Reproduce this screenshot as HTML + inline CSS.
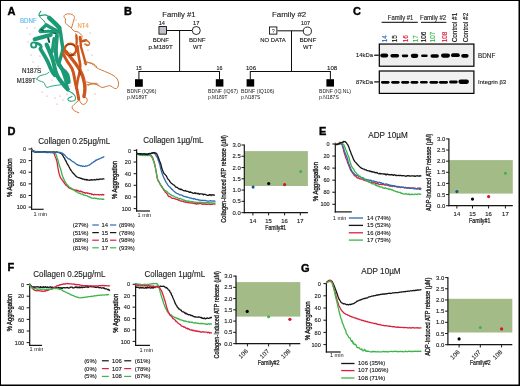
<!DOCTYPE html>
<html><head><meta charset="utf-8"><style>
html,body{margin:0;padding:0;background:#fff;}
body{width:520px;height:386px;overflow:hidden;}
svg{display:block;font-family:"Liberation Sans", sans-serif;will-change:transform;}
</style></head><body>
<svg width="520" height="386" viewBox="0 0 520 386">
<rect width="520" height="386" fill="#fff"/>
<defs><filter id="soft" x="0" y="0" width="520" height="386" filterUnits="userSpaceOnUse"><feGaussianBlur stdDeviation="0.3"/></filter></defs>
<g filter="url(#soft)">
<text x="7.50" y="15.00" font-size="11.0" fill="#000" stroke="#000" stroke-width="0.4" text-anchor="start" font-weight="bold" >A</text>
<text x="124.10" y="15.30" font-size="11.0" fill="#000" stroke="#000" stroke-width="0.4" text-anchor="start" font-weight="bold" >B</text>
<text x="353.10" y="15.40" font-size="11.0" fill="#000" stroke="#000" stroke-width="0.4" text-anchor="start" font-weight="bold" >C</text>
<text x="7.50" y="135.00" font-size="11.0" fill="#000" stroke="#000" stroke-width="0.4" text-anchor="start" font-weight="bold" >D</text>
<text x="318.90" y="134.70" font-size="11.0" fill="#000" stroke="#000" stroke-width="0.4" text-anchor="start" font-weight="bold" >E</text>
<text x="7.50" y="271.30" font-size="11.0" fill="#000" stroke="#000" stroke-width="0.4" text-anchor="start" font-weight="bold" >F</text>
<text x="301.00" y="271.50" font-size="11.0" fill="#000" stroke="#000" stroke-width="0.4" text-anchor="start" font-weight="bold" >G</text>
<g><path d="M40.8,11.3 Q38.7,14.5 39.0,15.2 Q39.4,15.9 41.2,15.4 Q43.0,14.9 44.7,14.9 Q46.4,14.9 47.6,15.9 L48.8,17.0" fill="none" stroke="#1a9a74" stroke-width="1.1" stroke-linecap="round" stroke-linejoin="round" />
<path d="M39.4,15.9 Q40.4,18.0 41.7,18.9 Q43.0,19.7 44.0,21.0 Q45.1,22.3 45.4,24.1 L45.6,25.8" fill="none" stroke="#1a9a74" stroke-width="1.0" stroke-linecap="round" stroke-linejoin="round" />
<path d="M36.7,79.2 Q37.9,76.3 40.0,75.8 Q42.0,75.2 44.4,74.6 Q46.7,74.0 47.9,73.1 L49.0,72.2" fill="none" stroke="#2aa683" stroke-width="1.0" stroke-linecap="round" stroke-linejoin="round" />
<path d="M36.7,79.2 Q38.5,81.0 41.4,81.5 Q44.3,82.1 44.6,83.6 Q44.9,85.1 45.8,86.5 Q46.7,88.0 48.5,87.1 Q50.2,86.2 54.2,85.7 Q58.3,85.1 60.0,84.8 L61.8,84.5" fill="none" stroke="#2aa683" stroke-width="1.0" stroke-linecap="round" stroke-linejoin="round" />
<path d="M66.5,90.3 Q70.0,91.5 71.8,92.7 Q73.5,93.8 74.7,95.5 Q75.8,97.3 75.5,98.8 Q75.2,100.2 73.8,100.8 Q72.3,101.4 70.2,101.1 Q68.2,100.8 67.9,99.7 Q67.6,98.5 68.8,97.9 Q70.0,97.3 71.0,96.9 L72.0,96.5" fill="none" stroke="#2aa683" stroke-width="1.1" stroke-linecap="round" stroke-linejoin="round" />
<circle cx="33.7" cy="45.0" r="2.6" fill="none" stroke="#1a9a74" stroke-width="1.9"/>
<path d="M49.2,17.8 Q54.5,22.6 57.0,25.2 L59.4,27.9" fill="none" stroke="#1a9a74" stroke-width="4.4" stroke-linecap="round" stroke-linejoin="round" />
<path d="M59.6,28.5 Q60.6,32.0 60.9,34.7 Q61.1,37.4 61.7,41.0 Q62.2,44.7 62.7,46.8 Q63.2,48.9 62.2,52.5 Q61.1,56.1 59.8,60.3 L58.5,64.5" fill="none" stroke="#1a9a74" stroke-width="3.5" stroke-linecap="round" stroke-linejoin="round" />
<path d="M46.4,24.9 Q52.5,28.5 55.5,30.1 L58.5,31.8" fill="none" stroke="#1a9a74" stroke-width="3.5" stroke-linecap="round" stroke-linejoin="round" />
<path d="M45.6,25.4 Q42.5,28.0 41.2,29.5 L40.0,31.0" fill="none" stroke="#1a9a74" stroke-width="3.3" stroke-linecap="round" stroke-linejoin="round" />
<path d="M40.4,31.7 Q46.0,31.2 48.9,31.2 Q51.8,31.2 54.9,31.8 L58.0,32.3" fill="none" stroke="#1a9a74" stroke-width="3.1" stroke-linecap="round" stroke-linejoin="round" />
<path d="M34.7,39.2 Q42.0,37.2 46.4,36.0 L50.7,34.9" fill="none" stroke="#1a9a74" stroke-width="4.1" stroke-linecap="round" stroke-linejoin="round" />
<path d="M36.2,43.2 Q39.5,44.0 40.5,45.2 Q41.5,46.5 41.0,47.7 L40.4,48.9" fill="none" stroke="#1a9a74" stroke-width="2.9" stroke-linecap="round" stroke-linejoin="round" />
<path d="M40.4,48.9 Q45.6,57.2 47.1,60.4 Q48.6,63.5 50.2,67.6 Q51.9,71.7 53.3,73.5 L54.8,75.2" fill="none" stroke="#1a9a74" stroke-width="3.7" stroke-linecap="round" stroke-linejoin="round" />
<path d="M46.6,44.7 Q50.7,54.0 52.2,58.0 Q53.6,62.0 54.0,64.5 Q54.3,67.0 55.5,71.1 Q56.6,75.2 58.6,78.1 Q60.6,81.0 63.0,83.9 Q65.3,86.8 66.5,88.0 L67.8,89.3" fill="none" stroke="#1a9a74" stroke-width="4.1" stroke-linecap="round" stroke-linejoin="round" />
<path d="M53.9,38.5 Q52.8,45.7 52.5,48.9 L52.3,52.0" fill="none" stroke="#1a9a74" stroke-width="2.9" stroke-linecap="round" stroke-linejoin="round" />
<path d="M57.0,35.4 Q55.9,45.7 55.9,50.9 Q55.9,56.1 56.7,59.0 Q57.5,62.0 58.5,63.9 Q59.5,65.8 61.5,68.2 Q63.6,70.5 65.6,72.2 Q67.6,74.0 68.2,78.0 L68.8,82.1" fill="none" stroke="#1a9a74" stroke-width="3.9" stroke-linecap="round" stroke-linejoin="round" />
<path d="M60.5,66.0 Q64.5,75.0 65.5,79.5 Q66.5,84.0 67.0,86.5 L67.5,89.0" fill="none" stroke="#1a9a74" stroke-width="3.3" stroke-linecap="round" stroke-linejoin="round" />
<path d="M48.2,38.3 L49.2,42.1" fill="none" stroke="#0b5a43" stroke-width="2.0" stroke-linecap="round" stroke-linejoin="round" />
<path d="M41.2,29.6 L43.2,30.4" fill="none" stroke="#0b5a43" stroke-width="1.6" stroke-linecap="round" stroke-linejoin="round" />
<path d="M52.6,33.0 L56.0,33.6" fill="none" stroke="#0b5a43" stroke-width="1.2" stroke-linecap="round" stroke-linejoin="round" />
<path d="M65.6,19.2 C62.2,16.6 64.2,13.6 69.3,13.9 C73.2,14.1 75.3,16.6 74.3,18.4 L72.8,23.5 L71.4,28.4 L74.3,31.2 L78.6,32.1 L82.1,35.7 L81.4,40" fill="none" stroke="#d0783a" stroke-width="1.0" stroke-linecap="round" stroke-linejoin="round" />
<path d="M65.6,19.2 Q64.6,22.0 65.8,23.4 Q67.0,24.9 69.2,26.4 L71.3,27.8" fill="none" stroke="#d0783a" stroke-width="1.0" stroke-linecap="round" stroke-linejoin="round" />
<path d="M75.7,33.6 L77.9,39.3" fill="none" stroke="#d0783a" stroke-width="0.9" stroke-linecap="round" stroke-linejoin="round" />
<path d="M85.7,40.0 Q90.7,42.9 89.3,44.6 Q87.9,46.4 86.2,45.2 L84.5,44.0" fill="none" stroke="#d0783a" stroke-width="1.1" stroke-linecap="round" stroke-linejoin="round" />
<path d="M86.3,61.8 Q91.8,62.7 93.6,65.0 Q95.4,67.2 98.2,68.6 Q100.9,70.0 104.5,71.3 Q108.1,72.7 111.8,74.5 Q115.4,76.3 117.2,79.0 Q119.0,81.7 118.5,84.9 Q118.1,88.1 116.3,88.5 Q114.5,89.0 112.7,87.2 Q110.8,85.4 108.5,85.8 Q106.3,86.3 104.0,87.2 Q101.8,88.1 99.5,86.3 Q97.2,84.5 94.5,84.0 Q91.8,83.6 89.9,84.5 L88.1,85.4" fill="none" stroke="#d0783a" stroke-width="1.0" stroke-linecap="round" stroke-linejoin="round" />
<path d="M78.8,97.3 Q79.8,103.1 81.8,104.0 Q83.7,105.0 85.3,103.8 Q87.0,102.6 87.2,100.4 Q87.5,98.3 86.0,97.8 L84.6,97.3" fill="none" stroke="#d0783a" stroke-width="1.0" stroke-linecap="round" stroke-linejoin="round" />
<path d="M77.9,101.2 Q73.1,105.0 72.3,106.5 Q71.6,107.9 72.8,109.3 Q74.0,110.8 76.4,111.8 L78.8,112.7" fill="none" stroke="#d0783a" stroke-width="1.0" stroke-linecap="round" stroke-linejoin="round" />
<path d="M86.5,81.9 Q91.3,83.8 94.2,83.3 Q97.1,82.9 98.0,84.3 L99.0,85.8" fill="none" stroke="#d0783a" stroke-width="0.9" stroke-linecap="round" stroke-linejoin="round" />
<path d="M70.0,52.7 L75.4,55.4" fill="none" stroke="#d0783a" stroke-width="1.0" stroke-linecap="round" stroke-linejoin="round" />
<circle cx="70.4" cy="49.6" r="5.8" fill="none" stroke="#cc561a" stroke-width="2.4"/>
<path d="M66.0,45.6 Q70,42.8 74.8,45.6" fill="none" stroke="#8a3510" stroke-width="1.0" stroke-linecap="round" stroke-linejoin="round" />
<path d="M76.3,35.5 Q76.8,40.0 76.7,42.0 L76.5,44.0" fill="none" stroke="#cc561a" stroke-width="2.3" stroke-linecap="round" stroke-linejoin="round" />
<path d="M79.9,37.0 L80.9,45.4" fill="none" stroke="#cc561a" stroke-width="2.3" stroke-linecap="round" stroke-linejoin="round" />
<path d="M81.9,41.2 L86.1,40.2" fill="none" stroke="#cc561a" stroke-width="2.5" stroke-linecap="round" stroke-linejoin="round" />
<path d="M86.1,39.7 Q90.8,42.8 89.5,44.1 Q88.2,45.4 86.8,44.7 L85.5,44.0" fill="none" stroke="#d0783a" stroke-width="1.2" stroke-linecap="round" stroke-linejoin="round" />
<path d="M63.2,53.9 Q67.1,61.7 69.7,64.9 Q72.2,68.1 73.2,72.0 Q74.2,75.9 74.8,79.8 Q75.5,83.7 76.5,87.6 Q77.4,91.5 78.1,95.3 L78.7,99.2" fill="none" stroke="#cc561a" stroke-width="3.0" stroke-linecap="round" stroke-linejoin="round" />
<path d="M65.8,51.3 Q71.0,57.8 73.5,61.0 Q76.1,64.2 78.7,68.1 Q81.3,72.0 82.6,75.9 Q83.9,79.8 84.6,84.3 Q85.2,88.9 84.6,92.8 L83.9,96.6" fill="none" stroke="#cc561a" stroke-width="3.4" stroke-linecap="round" stroke-linejoin="round" />
<path d="M77.4,46.0 Q78.7,57.8 79.7,61.6 Q80.7,65.5 80.1,69.4 Q79.4,73.3 78.4,77.2 Q77.4,81.1 77.0,84.5 L76.5,88.0" fill="none" stroke="#cc561a" stroke-width="2.6" stroke-linecap="round" stroke-linejoin="round" />
<path d="M80.7,46.0 Q83.9,56.5 84.8,60.4 L85.8,64.2" fill="none" stroke="#cc561a" stroke-width="2.4" stroke-linecap="round" stroke-linejoin="round" />
<path d="M83.9,63.0 Q89.1,62.3 91.7,63.2 Q94.3,64.2 95.6,65.5 L96.9,66.8" fill="none" stroke="#d0783a" stroke-width="1.0" stroke-linecap="round" stroke-linejoin="round" />
<path d="M86.5,85.0 Q91.7,83.0 94.3,83.7 L96.9,84.3" fill="none" stroke="#d0783a" stroke-width="1.0" stroke-linecap="round" stroke-linejoin="round" />
<path d="M69.5,55.4 L73.5,55.0" fill="none" stroke="#8a3510" stroke-width="1.3" stroke-linecap="round" stroke-linejoin="round" />
<path d="M79.5,70.0 L80.5,75.0" fill="none" stroke="#8a3510" stroke-width="0.8" stroke-linecap="round" stroke-linejoin="round" />
<circle cx="27" cy="28" r="0.5" fill="#c07070"/>
<circle cx="30" cy="34" r="0.5" fill="#c07070"/>
<circle cx="35" cy="28" r="0.5" fill="#c07070"/>
<circle cx="28" cy="42" r="0.5" fill="#c07070"/>
<circle cx="31" cy="55" r="0.5" fill="#c07070"/>
<circle cx="33" cy="62" r="0.5" fill="#c07070"/>
<circle cx="38" cy="66" r="0.5" fill="#c07070"/>
<circle cx="30" cy="70" r="0.5" fill="#c07070"/>
<circle cx="42" cy="92" r="0.5" fill="#c07070"/>
<circle cx="47" cy="96" r="0.5" fill="#c07070"/>
<circle cx="55" cy="98" r="0.5" fill="#c07070"/>
<circle cx="60" cy="96" r="0.5" fill="#c07070"/>
<circle cx="76" cy="20" r="0.5" fill="#c07070"/>
<circle cx="62" cy="36" r="0.5" fill="#c07070"/>
<circle cx="58" cy="42" r="0.5" fill="#c07070"/>
<circle cx="88" cy="50" r="0.5" fill="#c07070"/>
<circle cx="92" cy="55" r="0.5" fill="#c07070"/>
<circle cx="90" cy="33" r="0.5" fill="#c07070"/>
<circle cx="84" cy="26" r="0.5" fill="#c07070"/>
<circle cx="66" cy="70" r="0.5" fill="#c07070"/>
<circle cx="73" cy="72" r="0.5" fill="#c07070"/>
<circle cx="88" cy="70" r="0.5" fill="#c07070"/>
<circle cx="95" cy="94" r="0.5" fill="#c07070"/>
<circle cx="67" cy="94" r="0.5" fill="#c07070"/>
<circle cx="63" cy="100" r="0.5" fill="#c07070"/>
<circle cx="57" cy="104" r="0.5" fill="#c07070"/>
<circle cx="45" cy="28" r="0.5" fill="#c07070"/>
<circle cx="40" cy="56" r="0.5" fill="#c07070"/>
<circle cx="70" cy="86" r="0.5" fill="#c07070"/>
<circle cx="52" cy="80" r="0.5" fill="#c07070"/></g>
<text x="20.00" y="22.80" font-size="6.3" fill="#5bb5e8" stroke="#5bb5e8" stroke-width="0.12" text-anchor="start" font-weight="normal" textLength="16.8" lengthAdjust="spacingAndGlyphs">BDNF</text>
<text x="77.60" y="28.00" font-size="6.3" fill="#f0a050" stroke="#f0a050" stroke-width="0.12" text-anchor="start" font-weight="normal" textLength="11.2" lengthAdjust="spacingAndGlyphs">NT4</text>
<text x="22.10" y="73.10" font-size="6.3" fill="#1a1a1a" stroke="#1a1a1a" stroke-width="0.12" text-anchor="start" font-weight="normal" textLength="19.2" lengthAdjust="spacingAndGlyphs">N187S</text>
<text x="16.80" y="82.80" font-size="6.3" fill="#1a1a1a" stroke="#1a1a1a" stroke-width="0.12" text-anchor="start" font-weight="normal" textLength="18.8" lengthAdjust="spacingAndGlyphs">M189T</text>
<text x="162.25" y="17.40" font-size="8.0" fill="#1a1a1a" stroke="#1a1a1a" stroke-width="0.12" text-anchor="start" font-weight="normal" textLength="33.4" lengthAdjust="spacingAndGlyphs">Family #1</text>
<text x="271.90" y="17.40" font-size="8.0" fill="#1a1a1a" stroke="#1a1a1a" stroke-width="0.12" text-anchor="start" font-weight="normal" textLength="34.4" lengthAdjust="spacingAndGlyphs">Family #2</text>
<line x1="166.60" y1="30.50" x2="192.00" y2="30.50" stroke="#111" stroke-width="1.0" />
<line x1="179.60" y1="30.50" x2="179.60" y2="71.50" stroke="#111" stroke-width="1.0" />
<line x1="138.90" y1="71.50" x2="219.50" y2="71.50" stroke="#111" stroke-width="1.0" />
<line x1="138.90" y1="71.00" x2="138.90" y2="79.40" stroke="#111" stroke-width="1.0" />
<line x1="219.50" y1="71.00" x2="219.50" y2="79.40" stroke="#111" stroke-width="1.0" />
<rect x="158.95" y="26.55" width="7.50" height="7.60" fill="#c0c0c8" stroke="#111" stroke-width="0.9" />
<circle cx="196.25" cy="30.50" r="4.00" fill="#fff" stroke="#111" stroke-width="0.9"/>
<rect x="135.00" y="79.20" width="7.80" height="7.60" fill="#000" stroke="none" stroke-width="0" />
<rect x="215.80" y="79.20" width="7.60" height="7.40" fill="#000" stroke="none" stroke-width="0" />
<text x="158.75" y="24.90" font-size="5.7" fill="#1a1a1a" stroke="#1a1a1a" stroke-width="0.12" text-anchor="start" font-weight="normal" textLength="6.2" lengthAdjust="spacingAndGlyphs">14</text>
<text x="193.10" y="24.90" font-size="5.7" fill="#1a1a1a" stroke="#1a1a1a" stroke-width="0.12" text-anchor="start" font-weight="normal" textLength="6.3" lengthAdjust="spacingAndGlyphs">17</text>
<text x="152.75" y="41.50" font-size="6.0" fill="#1a1a1a" stroke="#1a1a1a" stroke-width="0.12" text-anchor="start" font-weight="normal" textLength="16.2" lengthAdjust="spacingAndGlyphs">BDNF</text>
<text x="148.50" y="49.25" font-size="6.1" fill="#1a1a1a" stroke="#1a1a1a" stroke-width="0.12" text-anchor="start" font-weight="normal" textLength="24.2" lengthAdjust="spacingAndGlyphs">p.M189T</text>
<text x="189.00" y="41.50" font-size="6.0" fill="#1a1a1a" stroke="#1a1a1a" stroke-width="0.12" text-anchor="start" font-weight="normal" textLength="16.5" lengthAdjust="spacingAndGlyphs">BDNF</text>
<text x="193.10" y="49.25" font-size="6.1" fill="#1a1a1a" stroke="#1a1a1a" stroke-width="0.12" text-anchor="start" font-weight="normal" textLength="8.8" lengthAdjust="spacingAndGlyphs">WT</text>
<text x="135.90" y="69.80" font-size="5.3" fill="#1a1a1a" stroke="#1a1a1a" stroke-width="0.12" text-anchor="start" font-weight="normal" textLength="5.7" lengthAdjust="spacingAndGlyphs">15</text>
<text x="216.40" y="69.80" font-size="5.3" fill="#1a1a1a" stroke="#1a1a1a" stroke-width="0.12" text-anchor="start" font-weight="normal" textLength="6.0" lengthAdjust="spacingAndGlyphs">16</text>
<text x="127.10" y="92.70" font-size="5.0" fill="#1a1a1a"  text-anchor="start" font-weight="normal" textLength="29.2" lengthAdjust="spacingAndGlyphs">BDNF (IQ96)</text>
<text x="127.10" y="98.60" font-size="5.1" fill="#1a1a1a"  text-anchor="start" font-weight="normal" textLength="20.2" lengthAdjust="spacingAndGlyphs">p.M189T</text>
<text x="208.00" y="92.70" font-size="5.0" fill="#1a1a1a"  text-anchor="start" font-weight="normal" textLength="30.0" lengthAdjust="spacingAndGlyphs">BDNF (IQ67)</text>
<text x="208.00" y="98.60" font-size="5.1" fill="#1a1a1a"  text-anchor="start" font-weight="normal" textLength="19.4" lengthAdjust="spacingAndGlyphs">p.M189T</text>
<line x1="277.40" y1="30.80" x2="303.00" y2="30.80" stroke="#111" stroke-width="1.0" />
<line x1="291.50" y1="30.80" x2="291.50" y2="71.50" stroke="#111" stroke-width="1.0" />
<line x1="250.20" y1="71.50" x2="330.40" y2="71.50" stroke="#111" stroke-width="1.0" />
<line x1="250.30" y1="71.00" x2="250.30" y2="79.40" stroke="#111" stroke-width="1.0" />
<line x1="330.40" y1="71.00" x2="330.40" y2="79.40" stroke="#111" stroke-width="1.0" />
<rect x="269.45" y="26.95" width="7.40" height="7.20" fill="#fff" stroke="#111" stroke-width="0.9" />
<text x="273.20" y="32.50" font-size="5.4" fill="#1a1a1a"  text-anchor="middle" font-weight="normal" >?</text>
<circle cx="307.40" cy="31.10" r="4.05" fill="#fff" stroke="#111" stroke-width="0.9"/>
<rect x="246.60" y="79.20" width="7.60" height="7.40" fill="#000" stroke="none" stroke-width="0" />
<rect x="326.40" y="79.20" width="7.60" height="7.40" fill="#000" stroke="none" stroke-width="0" />
<text x="301.00" y="24.90" font-size="5.5" fill="#1a1a1a" stroke="#1a1a1a" stroke-width="0.12" text-anchor="start" font-weight="normal" textLength="9.0" lengthAdjust="spacingAndGlyphs">107</text>
<text x="260.25" y="42.00" font-size="5.9" fill="#1a1a1a" stroke="#1a1a1a" stroke-width="0.12" text-anchor="start" font-weight="normal" textLength="25.4" lengthAdjust="spacingAndGlyphs">NO DATA</text>
<text x="299.40" y="42.00" font-size="6.1" fill="#1a1a1a" stroke="#1a1a1a" stroke-width="0.12" text-anchor="start" font-weight="normal" textLength="16.9" lengthAdjust="spacingAndGlyphs">BDNF</text>
<text x="303.10" y="49.25" font-size="6.1" fill="#1a1a1a" stroke="#1a1a1a" stroke-width="0.12" text-anchor="start" font-weight="normal" textLength="9.2" lengthAdjust="spacingAndGlyphs">WT</text>
<text x="246.00" y="69.80" font-size="5.5" fill="#1a1a1a" stroke="#1a1a1a" stroke-width="0.12" text-anchor="start" font-weight="normal" textLength="10.0" lengthAdjust="spacingAndGlyphs">106</text>
<text x="327.00" y="69.80" font-size="5.5" fill="#1a1a1a" stroke="#1a1a1a" stroke-width="0.12" text-anchor="start" font-weight="normal" textLength="10.2" lengthAdjust="spacingAndGlyphs">108</text>
<text x="241.10" y="92.70" font-size="5.0" fill="#1a1a1a"  text-anchor="start" font-weight="normal" textLength="33.2" lengthAdjust="spacingAndGlyphs">BDNF (IQ106)</text>
<text x="241.10" y="98.60" font-size="5.1" fill="#1a1a1a"  text-anchor="start" font-weight="normal" textLength="19.2" lengthAdjust="spacingAndGlyphs">p.N187S</text>
<text x="319.00" y="92.70" font-size="5.0" fill="#1a1a1a"  text-anchor="start" font-weight="normal" textLength="32.0" lengthAdjust="spacingAndGlyphs">BDNF (IQ.NL)</text>
<text x="319.00" y="98.60" font-size="5.1" fill="#1a1a1a"  text-anchor="start" font-weight="normal" textLength="19.8" lengthAdjust="spacingAndGlyphs">p.N187S</text>
<text x="387.80" y="19.80" font-size="6.5" fill="#222" stroke="#222" stroke-width="0.12" text-anchor="start" font-weight="normal" textLength="25.6" lengthAdjust="spacingAndGlyphs">Family #1</text>
<text x="420.00" y="20.00" font-size="6.5" fill="#222" stroke="#222" stroke-width="0.12" text-anchor="start" font-weight="normal" textLength="26.2" lengthAdjust="spacingAndGlyphs">Family #2</text>
<line x1="381.60" y1="22.30" x2="417.80" y2="22.30" stroke="#333" stroke-width="1.2" />
<line x1="421.00" y1="22.40" x2="446.30" y2="22.40" stroke="#333" stroke-width="1.2" />
<text transform="translate(386.80,42.3) rotate(-90)" font-size="6.4" fill="#2f6db0" stroke="#2f6db0" stroke-width="0.15" text-anchor="start">14</text>
<text transform="translate(397.10,42.3) rotate(-90)" font-size="6.4" fill="#151515" stroke="#151515" stroke-width="0.15" text-anchor="start">15</text>
<text transform="translate(407.50,42.3) rotate(-90)" font-size="6.4" fill="#d8213f" stroke="#d8213f" stroke-width="0.15" text-anchor="start">16</text>
<text transform="translate(417.60,42.3) rotate(-90)" font-size="6.4" fill="#3db54a" stroke="#3db54a" stroke-width="0.15" text-anchor="start">17</text>
<text transform="translate(425.60,42.3) rotate(-90)" font-size="6.4" fill="#151515" stroke="#151515" stroke-width="0.15" text-anchor="start">106</text>
<text transform="translate(435.40,42.3) rotate(-90)" font-size="6.4" fill="#3db54a" stroke="#3db54a" stroke-width="0.15" text-anchor="start">107</text>
<text transform="translate(446.50,42.3) rotate(-90)" font-size="6.4" fill="#d8213f" stroke="#d8213f" stroke-width="0.15" text-anchor="start">108</text>
<text transform="translate(457.30,42.3) rotate(-90)" font-size="6.4" fill="#151515" stroke="#151515" stroke-width="0.15" text-anchor="start">Control #1</text>
<text transform="translate(468.10,42.3) rotate(-90)" font-size="6.4" fill="#151515" stroke="#151515" stroke-width="0.15" text-anchor="start">Control #2</text>
<rect x="379.30" y="44.05" width="94.60" height="22.20" fill="#efefef" stroke="#000" stroke-width="1.2" />
<rect x="379.30" y="71.00" width="94.60" height="22.40" fill="#f1f1f1" stroke="#000" stroke-width="1.2" />
<text x="372.90" y="56.60" font-size="6.2" fill="#1a1a1a" stroke="#1a1a1a" stroke-width="0.12" text-anchor="end" font-weight="normal" textLength="16.9" lengthAdjust="spacingAndGlyphs">14kDa</text>
<text x="372.90" y="83.80" font-size="6.2" fill="#1a1a1a" stroke="#1a1a1a" stroke-width="0.12" text-anchor="end" font-weight="normal" textLength="16.9" lengthAdjust="spacingAndGlyphs">87kDa</text>
<line x1="374.20" y1="55.20" x2="378.80" y2="55.20" stroke="#000" stroke-width="1.2" />
<line x1="374.20" y1="81.90" x2="378.80" y2="81.90" stroke="#000" stroke-width="1.2" />
<text x="478.10" y="57.90" font-size="6.3" fill="#1a1a1a" stroke="#1a1a1a" stroke-width="0.12" text-anchor="start" font-weight="normal" textLength="17.2" lengthAdjust="spacingAndGlyphs">BDNF</text>
<text x="478.10" y="84.20" font-size="5.9" fill="#1a1a1a" stroke="#1a1a1a" stroke-width="0.12" text-anchor="start" font-weight="normal" textLength="28.0" lengthAdjust="spacingAndGlyphs">Integrin β3</text>
<defs><filter id="bl" x="-20%" y="-60%" width="140%" height="220%"><feGaussianBlur stdDeviation="0.35"/></filter></defs>
<rect x="380.30" y="53.50" width="7.90" height="4.10" rx="2.05" ry="2.05" fill="#050505" filter="url(#bl)"/>
<rect x="390.40" y="54.00" width="8.70" height="3.40" rx="1.70" ry="1.70" fill="#050505" filter="url(#bl)"/>
<rect x="401.80" y="54.50" width="6.40" height="2.70" rx="1.35" ry="1.35" fill="#050505" filter="url(#bl)"/>
<rect x="410.80" y="53.70" width="7.50" height="4.20" rx="2.10" ry="2.10" fill="#050505" filter="url(#bl)"/>
<rect x="421.10" y="54.60" width="6.60" height="2.50" rx="1.25" ry="1.25" fill="#050505" filter="url(#bl)"/>
<rect x="430.50" y="54.30" width="8.40" height="3.40" rx="1.70" ry="1.70" fill="#050505" filter="url(#bl)"/>
<rect x="441.00" y="53.50" width="9.00" height="4.20" rx="2.10" ry="2.10" fill="#050505" filter="url(#bl)"/>
<rect x="451.00" y="53.20" width="8.80" height="3.90" rx="1.95" ry="1.95" fill="#050505" filter="url(#bl)"/>
<rect x="461.20" y="53.90" width="7.40" height="3.80" rx="1.90" ry="1.90" fill="#050505" filter="url(#bl)"/>
<rect x="381.00" y="81.00" width="8.50" height="2.70" rx="1.35" ry="1.35" fill="#050505" filter="url(#bl)"/>
<rect x="391.20" y="81.00" width="8.40" height="2.70" rx="1.35" ry="1.35" fill="#050505" filter="url(#bl)"/>
<rect x="401.20" y="81.00" width="8.00" height="2.70" rx="1.35" ry="1.35" fill="#050505" filter="url(#bl)"/>
<rect x="410.60" y="81.00" width="7.70" height="2.70" rx="1.35" ry="1.35" fill="#050505" filter="url(#bl)"/>
<rect x="420.00" y="81.10" width="7.70" height="2.50" rx="1.25" ry="1.25" fill="#050505" filter="url(#bl)"/>
<rect x="429.50" y="80.90" width="8.70" height="2.80" rx="1.40" ry="1.40" fill="#050505" filter="url(#bl)"/>
<rect x="438.90" y="80.90" width="9.10" height="2.80" rx="1.40" ry="1.40" fill="#050505" filter="url(#bl)"/>
<rect x="449.10" y="80.60" width="8.60" height="2.90" rx="1.45" ry="1.45" fill="#050505" filter="url(#bl)"/>
<rect x="458.40" y="79.60" width="10.50" height="4.30" rx="2.15" ry="2.15" fill="#050505" filter="url(#bl)"/>
<text x="38.20" y="143.50" font-size="8.5" fill="#1a1a1a" stroke="#1a1a1a" stroke-width="0.12" text-anchor="start" font-weight="normal" textLength="72.1" lengthAdjust="spacingAndGlyphs">Collagen 0.25µg/mL</text>
<text x="143.30" y="142.90" font-size="8.5" fill="#1a1a1a" stroke="#1a1a1a" stroke-width="0.12" text-anchor="start" font-weight="normal" textLength="60.1" lengthAdjust="spacingAndGlyphs">Collagen 1µg/mL</text>
<line x1="31.60" y1="147.80" x2="31.60" y2="209.90" stroke="#151515" stroke-width="1.2" />
<line x1="31.00" y1="209.30" x2="43.60" y2="209.30" stroke="#151515" stroke-width="1.2" />
<line x1="28.60" y1="149.00" x2="31.60" y2="149.00" stroke="#151515" stroke-width="1.0" />
<text x="26.00" y="151.10" font-size="5.9" fill="#1a1a1a" stroke="#1a1a1a" stroke-width="0.12" text-anchor="end" font-weight="normal" textLength="3.1" lengthAdjust="spacingAndGlyphs">0</text>
<line x1="28.60" y1="160.62" x2="31.60" y2="160.62" stroke="#151515" stroke-width="1.0" />
<text x="26.00" y="162.72" font-size="5.9" fill="#1a1a1a" stroke="#1a1a1a" stroke-width="0.12" text-anchor="end" font-weight="normal" textLength="6.2" lengthAdjust="spacingAndGlyphs">20</text>
<line x1="28.60" y1="172.24" x2="31.60" y2="172.24" stroke="#151515" stroke-width="1.0" />
<text x="26.00" y="174.34" font-size="5.9" fill="#1a1a1a" stroke="#1a1a1a" stroke-width="0.12" text-anchor="end" font-weight="normal" textLength="6.2" lengthAdjust="spacingAndGlyphs">40</text>
<line x1="28.60" y1="183.86" x2="31.60" y2="183.86" stroke="#151515" stroke-width="1.0" />
<text x="26.00" y="185.96" font-size="5.9" fill="#1a1a1a" stroke="#1a1a1a" stroke-width="0.12" text-anchor="end" font-weight="normal" textLength="6.2" lengthAdjust="spacingAndGlyphs">60</text>
<line x1="28.60" y1="195.48" x2="31.60" y2="195.48" stroke="#151515" stroke-width="1.0" />
<text x="26.00" y="197.58" font-size="5.9" fill="#1a1a1a" stroke="#1a1a1a" stroke-width="0.12" text-anchor="end" font-weight="normal" textLength="6.2" lengthAdjust="spacingAndGlyphs">80</text>
<line x1="28.60" y1="207.10" x2="31.60" y2="207.10" stroke="#151515" stroke-width="1.0" />
<text x="26.00" y="209.20" font-size="5.9" fill="#1a1a1a" stroke="#1a1a1a" stroke-width="0.12" text-anchor="end" font-weight="normal" textLength="9.3" lengthAdjust="spacingAndGlyphs">100</text>
<text x="33.50" y="215.70" font-size="5.6" fill="#1a1a1a"  text-anchor="start" font-weight="normal" >1 min</text>
<text transform="translate(11.95,177.75) rotate(-90)" x="0" y="0" font-size="7.2" fill="#1a1a1a" stroke="#1a1a1a" stroke-width="0.35" text-anchor="middle" textLength="38.5" lengthAdjust="spacingAndGlyphs" >% Aggregation</text>
<line x1="136.60" y1="149.20" x2="136.60" y2="211.60" stroke="#151515" stroke-width="1.2" />
<line x1="136.00" y1="211.00" x2="150.00" y2="211.00" stroke="#151515" stroke-width="1.2" />
<line x1="133.60" y1="150.40" x2="136.60" y2="150.40" stroke="#151515" stroke-width="1.0" />
<text x="131.00" y="152.50" font-size="5.9" fill="#1a1a1a" stroke="#1a1a1a" stroke-width="0.12" text-anchor="end" font-weight="normal" textLength="3.1" lengthAdjust="spacingAndGlyphs">0</text>
<line x1="133.60" y1="162.04" x2="136.60" y2="162.04" stroke="#151515" stroke-width="1.0" />
<text x="131.00" y="164.14" font-size="5.9" fill="#1a1a1a" stroke="#1a1a1a" stroke-width="0.12" text-anchor="end" font-weight="normal" textLength="6.2" lengthAdjust="spacingAndGlyphs">20</text>
<line x1="133.60" y1="173.68" x2="136.60" y2="173.68" stroke="#151515" stroke-width="1.0" />
<text x="131.00" y="175.78" font-size="5.9" fill="#1a1a1a" stroke="#1a1a1a" stroke-width="0.12" text-anchor="end" font-weight="normal" textLength="6.2" lengthAdjust="spacingAndGlyphs">40</text>
<line x1="133.60" y1="185.32" x2="136.60" y2="185.32" stroke="#151515" stroke-width="1.0" />
<text x="131.00" y="187.42" font-size="5.9" fill="#1a1a1a" stroke="#1a1a1a" stroke-width="0.12" text-anchor="end" font-weight="normal" textLength="6.2" lengthAdjust="spacingAndGlyphs">60</text>
<line x1="133.60" y1="196.96" x2="136.60" y2="196.96" stroke="#151515" stroke-width="1.0" />
<text x="131.00" y="199.06" font-size="5.9" fill="#1a1a1a" stroke="#1a1a1a" stroke-width="0.12" text-anchor="end" font-weight="normal" textLength="6.2" lengthAdjust="spacingAndGlyphs">80</text>
<line x1="133.60" y1="208.60" x2="136.60" y2="208.60" stroke="#151515" stroke-width="1.0" />
<text x="131.00" y="210.70" font-size="5.9" fill="#1a1a1a" stroke="#1a1a1a" stroke-width="0.12" text-anchor="end" font-weight="normal" textLength="9.3" lengthAdjust="spacingAndGlyphs">100</text>
<text x="137.50" y="217.30" font-size="5.6" fill="#1a1a1a"  text-anchor="start" font-weight="normal" >1 min</text>
<text transform="translate(117.25,180.00) rotate(-90)" x="0" y="0" font-size="7.2" fill="#1a1a1a" stroke="#1a1a1a" stroke-width="0.35" text-anchor="middle" textLength="38.0" lengthAdjust="spacingAndGlyphs" >% Aggregation</text>
<polyline points="31.60,149.50 32.06,149.84 32.77,150.91 33.90,151.38 34.35,151.71 34.85,151.81 35.39,151.38 35.98,151.38 36.59,152.16 37.24,151.67 37.91,151.67 38.60,152.38 39.30,151.94 40.00,152.30 40.56,152.01 41.15,152.18 41.77,151.77 42.41,152.23 43.06,152.46 43.72,152.17 44.38,152.39 45.03,152.35 45.68,151.82 46.30,152.47 46.90,152.34 47.47,152.10 48.00,151.88 48.81,152.64 49.59,152.26 50.33,152.44 51.02,152.55 51.67,152.40 52.27,152.64 52.81,152.29 53.30,152.87 54.21,153.55 54.76,155.41 55.30,157.04 55.96,158.25 56.61,160.45 57.20,162.85 57.85,167.41 58.50,170.84 59.04,173.35 59.64,175.25 60.40,177.41 60.96,178.32 61.59,179.21 62.27,180.27 62.98,181.10 63.70,182.26 64.30,182.84 64.91,183.87 65.54,184.62 66.19,185.53 66.87,185.98 67.60,186.20 68.19,187.28 68.83,187.81 69.49,188.16 70.17,188.24 70.85,188.73 71.51,188.60 72.13,189.44 72.70,189.47 73.41,189.49 73.94,189.43 74.46,190.24 75.15,190.49 76.20,189.93 76.65,190.69 77.16,190.48 77.71,190.40 78.30,190.69 78.93,191.29 79.57,191.56 80.24,191.00 80.92,191.70 81.61,191.38 82.30,192.17 82.98,192.00 83.64,192.67 84.29,192.93 84.91,192.66 85.50,193.25 86.19,192.80 86.85,192.75 87.49,193.38 88.11,193.03 88.71,193.32 89.32,193.65 89.93,193.97 90.55,193.69 91.19,193.70 91.86,194.55 92.56,194.15 93.30,194.81 93.87,194.81 94.48,194.39 95.14,194.50 95.83,194.58 96.54,194.72 97.26,194.70 97.99,194.68 98.72,194.75 99.45,195.05 100.15,194.67 100.83,194.61 101.47,194.87 102.08,194.44 102.63,194.50 103.12,195.12 103.55,194.71 103.90,194.70" fill="none" stroke="#d8213f" stroke-width="1.3" stroke-linejoin="round" stroke-linecap="round"/>
<polyline points="31.60,149.50 32.06,150.11 32.77,150.53 33.90,151.44 34.35,151.67 34.85,151.36 35.39,151.84 35.98,151.91 36.59,151.54 37.24,151.97 37.91,151.88 38.60,152.06 39.30,151.86 40.00,152.14 40.56,152.20 41.14,151.73 41.75,151.80 42.37,152.26 43.00,152.49 43.65,152.03 44.29,152.20 44.94,152.33 45.58,152.17 46.21,152.23 46.83,152.22 47.43,152.28 48.00,152.47 48.67,152.27 49.34,152.29 50.01,152.52 50.67,151.94 51.32,152.26 51.95,152.33 52.55,152.02 53.13,151.98 53.66,152.46 54.16,152.20 54.60,152.38 55.55,153.52 56.19,155.05 56.69,156.18 57.20,157.88 57.88,159.94 58.49,162.46 59.10,164.36 59.76,166.81 60.44,168.50 61.10,170.79 61.71,173.22 62.32,175.60 63.00,177.37 63.58,178.63 64.21,179.90 64.88,181.44 65.60,182.38 66.19,183.68 66.78,184.50 67.42,184.79 68.11,185.59 68.90,186.72 69.47,187.10 70.12,187.73 70.81,187.93 71.52,188.30 72.22,188.92 72.89,189.73 73.49,189.79 74.00,190.19 74.69,190.76 75.05,191.01 76.20,191.54 76.62,192.08 77.10,191.76 77.63,191.89 78.21,192.80 78.83,193.02 79.48,193.38 80.16,193.28 80.85,193.93 81.55,194.21 82.25,194.01 82.94,194.66 83.62,195.00 84.28,195.14 84.91,195.29 85.50,195.35 86.19,195.66 86.85,195.83 87.49,195.97 88.11,196.58 88.71,196.60 89.32,197.19 89.93,196.86 90.55,197.67 91.19,197.71 91.86,198.06 92.56,198.21 93.30,198.38 93.87,198.26 94.48,197.97 95.14,198.58 95.83,198.27 96.54,198.45 97.26,198.79 97.99,198.77 98.72,198.77 99.45,199.20 100.15,199.04 100.83,198.91 101.47,198.90 102.08,199.38 102.63,199.16 103.12,199.42 103.55,199.16 103.90,199.30" fill="none" stroke="#3db54a" stroke-width="1.3" stroke-linejoin="round" stroke-linecap="round"/>
<polyline points="31.60,149.50 32.06,149.86 32.77,150.89 33.90,151.72 34.35,151.38 34.85,151.90 35.39,152.06 35.98,152.03 36.59,152.08 37.24,151.54 37.91,152.00 38.60,152.19 39.30,151.65 40.00,151.84 40.55,151.87 41.11,152.08 41.69,152.04 42.28,152.10 42.88,152.34 43.50,151.82 44.12,151.88 44.75,151.95 45.39,151.97 46.03,151.95 46.68,152.60 47.34,152.54 48.00,152.01 48.59,152.31 49.21,152.18 49.85,152.17 50.51,152.19 51.17,152.38 51.85,152.33 52.52,152.16 53.19,152.03 53.84,152.12 54.48,151.97 55.10,152.27 55.68,152.39 56.23,152.16 56.74,151.97 57.20,152.07 58.16,152.29 58.92,152.53 59.53,152.76 60.05,152.65 60.55,153.21 61.10,153.49 61.78,154.02 62.43,154.81 63.05,155.86 63.66,157.05 64.30,157.94 64.94,159.30 65.58,160.40 66.23,161.57 66.90,163.11 67.60,164.54 68.22,165.20 68.86,166.58 69.52,167.72 70.19,169.14 70.85,170.24 71.50,170.81 72.14,172.07 72.77,172.83 73.39,173.23 74.02,174.10 74.66,174.53 75.30,175.62 75.93,176.05 76.54,176.68 77.15,177.02 77.80,177.31 78.50,177.71 79.30,177.94 79.82,177.84 80.37,178.39 80.95,178.20 81.54,178.50 82.16,179.14 82.80,178.82 83.45,179.02 84.12,179.18 84.81,179.86 85.50,179.48 86.09,179.44 86.68,180.07 87.27,179.60 87.88,180.14 88.49,180.03 89.12,180.15 89.77,180.23 90.43,179.96 91.12,180.09 91.82,179.54 92.55,180.02 93.30,179.81 93.87,179.92 94.48,179.46 95.14,179.86 95.83,179.94 96.54,179.27 97.26,179.40 97.99,179.50 98.72,179.62 99.45,179.14 100.15,179.03 100.83,179.02 101.47,179.21 102.08,179.25 102.63,178.94 103.12,178.88 103.55,178.86 103.90,178.90" fill="none" stroke="#151515" stroke-width="1.3" stroke-linejoin="round" stroke-linecap="round"/>
<polyline points="31.60,149.50 32.06,149.98 32.77,150.82 33.90,151.25 34.35,151.61 34.85,151.98 35.39,151.71 35.98,151.97 36.59,151.65 37.24,152.00 37.91,152.07 38.60,152.04 39.30,151.98 40.00,151.99 40.54,152.12 41.09,152.30 41.64,151.87 42.20,151.87 42.77,152.28 43.35,152.41 43.94,152.19 44.56,152.17 45.20,152.35 45.86,152.05 46.54,152.12 47.25,152.10 48.00,152.35 48.54,152.20 49.12,152.16 49.73,152.44 50.37,152.60 51.04,152.20 51.71,152.45 52.41,152.27 53.11,152.53 53.81,152.37 54.50,152.18 55.19,152.15 55.87,152.04 56.53,152.32 57.16,152.28 57.77,152.17 58.34,152.31 58.87,152.31 59.36,152.62 59.80,152.29 60.91,152.95 61.69,152.83 62.24,153.13 62.69,153.33 63.14,153.88 63.70,154.29 64.35,154.67 65.00,155.27 65.65,156.13 66.30,156.93 66.95,157.34 67.60,158.14 68.26,158.77 68.93,158.92 69.59,159.18 70.25,159.57 70.89,160.24 71.50,160.61 72.16,161.26 72.76,161.67 73.35,161.78 73.98,162.22 74.70,162.76 75.27,163.09 75.87,163.80 76.49,164.31 77.14,164.74 77.83,164.74 78.55,165.44 79.30,165.39 79.86,165.62 80.46,165.96 81.09,165.71 81.74,165.83 82.39,166.38 83.05,166.14 83.70,166.23 84.33,166.39 84.93,166.44 85.50,166.00 86.24,166.09 86.93,165.97 87.58,165.77 88.22,165.32 88.85,165.22 89.50,165.07 90.20,164.33 90.85,164.02 91.54,163.29 92.24,162.86 92.95,162.54 93.65,161.66 94.34,161.61 94.99,161.15 95.60,160.26 96.33,160.35 96.99,159.68 97.61,159.65 98.22,159.40 98.84,158.87 99.50,158.81 100.14,158.49 100.85,158.24 101.58,157.57 102.30,157.52 102.95,157.33 103.50,156.90 103.90,156.60" fill="none" stroke="#2f6db0" stroke-width="1.3" stroke-linejoin="round" stroke-linecap="round"/>
<polyline points="137.30,153.40 137.64,153.65 138.09,153.58 138.82,154.25 140.00,154.37 140.43,154.74 140.93,154.73 141.50,154.66 142.12,154.33 142.77,154.76 143.46,154.75 144.16,154.35 144.87,155.00 145.57,154.79 146.25,154.32 146.90,155.06 147.52,154.37 148.08,154.57 148.58,154.95 149.00,154.89 150.08,154.98 150.65,155.19 151.02,155.32 151.50,155.83 152.16,156.76 152.83,158.02 153.49,160.20 154.10,162.03 154.84,164.68 155.51,168.06 156.10,170.77 156.71,174.83 157.40,178.60 157.94,180.52 158.58,181.06 159.28,182.67 160.00,183.67 160.59,185.17 161.20,185.81 161.84,186.81 162.51,187.89 163.20,189.04 163.82,190.13 164.49,190.68 165.17,192.06 165.85,192.29 166.50,193.26 167.10,193.84 167.72,194.70 168.14,195.95 168.77,196.50 170.00,196.72 170.42,196.91 170.88,197.32 171.39,197.82 171.93,198.10 172.51,198.26 173.12,198.34 173.75,198.17 174.41,198.62 175.07,198.66 175.75,199.19 176.43,199.45 177.12,199.34 177.80,199.59 178.47,200.28 179.14,199.80 179.78,200.69 180.40,200.95 181.01,201.18 181.62,200.84 182.24,201.16 182.85,201.36 183.47,201.56 184.08,202.03 184.70,201.92 185.31,201.72 185.92,202.37 186.54,202.17 187.14,202.41 187.75,202.65 188.35,202.12 188.94,202.93 189.53,202.94 190.12,202.90 190.70,203.02 191.34,203.07 191.95,202.91 192.53,203.30 193.10,202.92 193.66,203.40 194.22,203.59 194.78,203.45 195.34,203.61 195.92,204.00 196.51,203.98 197.14,203.33 197.79,203.95 198.48,203.84 199.22,203.36 200.00,203.67 200.51,203.58 201.05,203.47 201.63,203.90 202.24,204.28 202.88,203.75 203.53,204.27 204.21,204.13 204.90,203.64 205.60,204.31 206.31,204.10 207.02,204.41 207.73,204.24 208.43,204.27 209.13,203.93 209.81,204.36 210.47,204.49 211.11,204.44 211.73,204.07 212.31,204.37 212.87,204.14 213.39,203.81 213.86,203.76 214.29,203.80 214.67,203.92 215.00,204.20" fill="none" stroke="#d8213f" stroke-width="1.3" stroke-linejoin="round" stroke-linecap="round"/>
<polyline points="137.30,153.40 137.64,153.52 138.09,154.27 138.82,154.95 140.00,155.23 140.43,155.21 140.93,155.42 141.50,155.22 142.12,155.36 142.77,155.58 143.46,155.34 144.16,155.20 144.87,155.71 145.57,155.59 146.25,155.35 146.90,155.37 147.52,155.50 148.08,155.57 148.58,155.35 149.00,155.25 150.08,155.57 150.65,156.15 151.02,156.05 151.50,156.97 152.16,157.89 152.83,159.32 153.49,160.95 154.10,162.93 154.83,165.60 155.49,168.67 156.10,171.73 156.79,175.77 157.60,179.49 158.21,180.62 158.92,181.82 159.70,183.27 160.50,184.44 161.15,185.67 161.83,186.28 162.54,187.57 163.26,188.55 164.00,189.17 164.66,190.47 165.37,190.53 166.09,190.97 166.80,191.72 167.44,191.95 168.00,192.69 168.50,193.09 168.79,193.38 170.00,194.09 170.39,194.76 170.84,194.67 171.33,195.27 171.87,195.31 172.45,195.91 173.05,195.76 173.69,196.02 174.35,196.33 175.02,197.02 175.71,197.20 176.40,197.30 177.09,197.42 177.78,198.12 178.46,198.60 179.13,198.60 179.78,198.43 180.40,198.67 181.01,198.92 181.62,199.18 182.24,199.28 182.85,199.48 183.47,200.07 184.08,200.42 184.70,200.09 185.31,200.79 185.92,200.60 186.54,200.97 187.14,201.19 187.75,201.34 188.35,200.83 188.94,201.14 189.53,201.46 190.12,201.81 190.70,201.31 191.34,201.56 191.95,202.04 192.53,201.61 193.10,201.87 193.66,201.89 194.22,202.19 194.78,202.40 195.34,201.92 195.92,202.35 196.51,202.38 197.14,202.48 197.79,202.32 198.48,202.61 199.22,202.26 200.00,202.34 200.51,202.24 201.05,202.65 201.63,202.47 202.24,202.35 202.88,202.31 203.53,202.73 204.21,202.67 204.90,202.78 205.60,202.58 206.31,202.67 207.02,202.47 207.73,202.88 208.43,202.43 209.13,202.77 209.81,202.99 210.47,202.96 211.11,202.58 211.73,202.70 212.31,203.14 212.87,203.02 213.39,203.20 213.86,203.22 214.29,202.94 214.67,203.27 215.00,203.00" fill="none" stroke="#3db54a" stroke-width="1.3" stroke-linejoin="round" stroke-linecap="round"/>
<polyline points="137.30,153.40 137.64,153.66 138.09,153.60 138.82,153.80 140.00,153.74 140.43,153.96 140.92,154.31 141.47,153.82 142.07,154.11 142.70,153.84 143.36,153.83 144.04,154.18 144.73,153.94 145.42,153.82 146.10,153.88 146.76,154.17 147.39,154.12 147.98,153.76 148.52,153.87 149.00,154.28 149.89,153.71 150.65,153.71 151.31,153.39 151.90,153.39 152.44,153.12 152.96,153.17 153.50,153.12 154.23,153.30 154.90,153.89 155.53,154.59 156.12,155.92 156.70,156.47 157.41,157.78 158.07,159.92 158.71,161.16 159.30,163.34 159.99,165.40 160.62,168.32 161.30,170.73 161.87,172.81 162.47,174.30 163.11,175.89 163.80,177.56 164.38,178.93 164.97,179.94 165.60,181.41 166.31,182.61 167.10,183.67 167.67,184.88 168.32,185.53 169.01,186.46 169.72,186.87 170.43,187.81 171.12,188.47 171.75,189.27 172.30,189.45 173.13,190.48 173.75,191.19 174.37,191.47 175.20,192.33 175.71,192.76 176.22,192.89 176.76,193.34 177.34,193.63 177.98,193.72 178.69,194.13 179.49,194.85 180.40,194.80 180.87,195.03 181.38,195.00 181.91,195.26 182.47,195.41 183.05,196.06 183.65,196.13 184.27,196.41 184.90,196.66 185.55,196.63 186.20,197.01 186.85,196.97 187.51,197.08 188.16,197.58 188.81,197.74 189.45,197.94 190.08,197.83 190.70,198.16 191.30,198.10 191.90,198.61 192.48,198.73 193.07,198.50 193.64,199.04 194.22,198.74 194.80,198.84 195.38,199.36 195.97,199.24 196.56,199.51 197.17,199.71 197.78,199.48 198.41,200.03 199.05,199.86 199.72,200.06 200.40,200.11 201.10,200.45 201.65,200.51 202.23,200.30 202.84,200.25 203.48,200.42 204.15,200.54 204.83,200.38 205.52,200.47 206.22,200.88 206.93,200.88 207.64,201.08 208.35,201.12 209.05,201.08 209.73,200.81 210.41,200.71 211.06,200.83 211.68,200.94 212.28,201.00 212.84,201.03 213.36,200.94 213.85,201.26 214.28,200.94 214.67,201.06 215.00,201.10" fill="none" stroke="#2f6db0" stroke-width="1.3" stroke-linejoin="round" stroke-linecap="round"/>
<polyline points="137.30,153.40 137.64,153.91 138.09,154.01 138.82,153.68 140.00,153.74 140.42,154.33 140.91,153.55 141.45,153.69 142.03,154.11 142.65,154.12 143.30,153.77 143.97,153.66 144.65,153.82 145.33,154.39 146.00,154.08 146.67,154.58 147.30,154.37 147.91,154.54 148.48,153.57 149.00,153.69 149.80,153.41 150.57,153.67 151.29,153.39 151.97,152.89 152.62,153.18 153.22,152.56 153.79,152.65 154.31,152.52 154.80,153.10 155.68,153.01 156.30,153.39 156.83,153.94 157.40,155.33 158.07,156.86 158.74,158.53 159.40,160.52 160.00,162.11 160.69,163.78 161.29,165.91 161.90,168.56 162.48,170.23 163.06,171.38 163.80,173.13 164.36,173.76 164.99,174.38 165.67,175.18 166.38,175.96 167.10,177.54 167.71,178.65 168.34,179.55 168.99,180.02 169.66,181.12 170.33,182.24 171.00,182.91 171.67,183.42 172.34,183.89 173.02,184.61 173.71,184.85 174.44,185.43 175.20,186.48 175.77,187.19 176.31,187.12 176.85,187.35 177.42,187.64 178.03,188.09 178.72,188.78 179.50,188.79 180.40,189.66 180.87,189.03 181.38,189.38 181.91,189.77 182.47,189.86 183.05,190.49 183.65,190.66 184.27,190.96 184.90,190.83 185.55,190.45 186.20,191.18 186.85,191.34 187.51,191.46 188.16,191.44 188.81,192.04 189.45,192.41 190.08,191.75 190.70,192.47 191.32,192.31 191.95,192.59 192.60,193.10 193.25,193.29 193.91,193.10 194.57,192.77 195.23,193.60 195.89,192.97 196.54,193.28 197.18,193.82 197.81,193.41 198.42,193.45 199.01,194.22 199.57,194.30 200.11,193.76 200.62,193.91 201.10,193.88 201.98,193.88 202.70,194.13 203.30,194.98 203.84,194.18 204.36,194.42 204.91,194.47 205.54,194.42 206.30,194.93 206.85,195.18 207.48,195.30 208.16,195.12 208.87,195.33 209.61,194.54 210.35,194.83 211.09,195.52 211.81,194.63 212.48,194.84 213.11,195.06 213.66,194.85 214.13,195.14 214.50,195.10" fill="none" stroke="#151515" stroke-width="1.3" stroke-linejoin="round" stroke-linecap="round"/>
<text x="88.50" y="227.00" font-size="5.9" fill="#1a1a1a" stroke="#1a1a1a" stroke-width="0.12" text-anchor="end" font-weight="normal" >(27%)</text>
<line x1="92.30" y1="225.00" x2="98.80" y2="225.00" stroke="#2f6db0" stroke-width="1.2" />
<text x="104.80" y="227.00" font-size="5.9" fill="#1a1a1a" stroke="#1a1a1a" stroke-width="0.12" text-anchor="middle" font-weight="normal" >14</text>
<line x1="110.00" y1="225.00" x2="116.30" y2="225.00" stroke="#2f6db0" stroke-width="1.2" />
<text x="119.00" y="227.00" font-size="5.9" fill="#1a1a1a" stroke="#1a1a1a" stroke-width="0.12" text-anchor="start" font-weight="normal" >(89%)</text>
<text x="88.50" y="234.60" font-size="5.9" fill="#1a1a1a" stroke="#1a1a1a" stroke-width="0.12" text-anchor="end" font-weight="normal" >(51%)</text>
<line x1="92.30" y1="232.60" x2="98.80" y2="232.60" stroke="#151515" stroke-width="1.2" />
<text x="104.80" y="234.60" font-size="5.9" fill="#1a1a1a" stroke="#1a1a1a" stroke-width="0.12" text-anchor="middle" font-weight="normal" >15</text>
<line x1="110.00" y1="232.60" x2="116.30" y2="232.60" stroke="#151515" stroke-width="1.2" />
<text x="119.00" y="234.60" font-size="5.9" fill="#1a1a1a" stroke="#1a1a1a" stroke-width="0.12" text-anchor="start" font-weight="normal" >(78%)</text>
<text x="88.50" y="242.20" font-size="5.9" fill="#1a1a1a" stroke="#1a1a1a" stroke-width="0.12" text-anchor="end" font-weight="normal" >(88%)</text>
<line x1="92.30" y1="240.20" x2="98.80" y2="240.20" stroke="#d8213f" stroke-width="1.2" />
<text x="104.80" y="242.20" font-size="5.9" fill="#1a1a1a" stroke="#1a1a1a" stroke-width="0.12" text-anchor="middle" font-weight="normal" >16</text>
<line x1="110.00" y1="240.20" x2="116.30" y2="240.20" stroke="#d8213f" stroke-width="1.2" />
<text x="119.00" y="242.20" font-size="5.9" fill="#1a1a1a" stroke="#1a1a1a" stroke-width="0.12" text-anchor="start" font-weight="normal" >(98%)</text>
<text x="88.50" y="249.80" font-size="5.9" fill="#1a1a1a" stroke="#1a1a1a" stroke-width="0.12" text-anchor="end" font-weight="normal" >(81%)</text>
<line x1="92.30" y1="247.80" x2="98.80" y2="247.80" stroke="#3db54a" stroke-width="1.2" />
<text x="104.80" y="249.80" font-size="5.9" fill="#1a1a1a" stroke="#1a1a1a" stroke-width="0.12" text-anchor="middle" font-weight="normal" >17</text>
<line x1="110.00" y1="247.80" x2="116.30" y2="247.80" stroke="#3db54a" stroke-width="1.2" />
<text x="119.00" y="249.80" font-size="5.9" fill="#1a1a1a" stroke="#1a1a1a" stroke-width="0.12" text-anchor="start" font-weight="normal" >(93%)</text>
<rect x="244.30" y="151.10" width="63.60" height="34.90" fill="#a3bb87" stroke="none" stroke-width="0" />
<line x1="244.30" y1="144.50" x2="244.30" y2="213.22" stroke="#151515" stroke-width="1.2" />
<line x1="243.70" y1="212.62" x2="307.90" y2="212.62" stroke="#151515" stroke-width="1.2" />
<line x1="241.50" y1="145.00" x2="244.30" y2="145.00" stroke="#151515" stroke-width="1.0" />
<text x="240.70" y="147.10" font-size="5.9" fill="#1a1a1a" stroke="#1a1a1a" stroke-width="0.12" text-anchor="end" font-weight="normal" >3.0</text>
<line x1="241.50" y1="156.27" x2="244.30" y2="156.27" stroke="#151515" stroke-width="1.0" />
<text x="240.70" y="158.37" font-size="5.9" fill="#1a1a1a" stroke="#1a1a1a" stroke-width="0.12" text-anchor="end" font-weight="normal" >2.5</text>
<line x1="241.50" y1="167.54" x2="244.30" y2="167.54" stroke="#151515" stroke-width="1.0" />
<text x="240.70" y="169.64" font-size="5.9" fill="#1a1a1a" stroke="#1a1a1a" stroke-width="0.12" text-anchor="end" font-weight="normal" >2.0</text>
<line x1="241.50" y1="178.81" x2="244.30" y2="178.81" stroke="#151515" stroke-width="1.0" />
<text x="240.70" y="180.91" font-size="5.9" fill="#1a1a1a" stroke="#1a1a1a" stroke-width="0.12" text-anchor="end" font-weight="normal" >1.5</text>
<line x1="241.50" y1="190.08" x2="244.30" y2="190.08" stroke="#151515" stroke-width="1.0" />
<text x="240.70" y="192.18" font-size="5.9" fill="#1a1a1a" stroke="#1a1a1a" stroke-width="0.12" text-anchor="end" font-weight="normal" >1.0</text>
<line x1="241.50" y1="201.35" x2="244.30" y2="201.35" stroke="#151515" stroke-width="1.0" />
<text x="240.70" y="203.45" font-size="5.9" fill="#1a1a1a" stroke="#1a1a1a" stroke-width="0.12" text-anchor="end" font-weight="normal" >0.5</text>
<line x1="241.50" y1="212.62" x2="244.30" y2="212.62" stroke="#151515" stroke-width="1.0" />
<text x="240.70" y="214.72" font-size="5.9" fill="#1a1a1a" stroke="#1a1a1a" stroke-width="0.12" text-anchor="end" font-weight="normal" >0.0</text>
<line x1="252.90" y1="212.62" x2="252.90" y2="215.42" stroke="#151515" stroke-width="1.0" />
<text x="252.90" y="223.02" font-size="5.9" fill="#1a1a1a" stroke="#1a1a1a" stroke-width="0.12" text-anchor="middle" font-weight="normal" >14</text>
<line x1="268.60" y1="212.62" x2="268.60" y2="215.42" stroke="#151515" stroke-width="1.0" />
<text x="268.60" y="223.02" font-size="5.9" fill="#1a1a1a" stroke="#1a1a1a" stroke-width="0.12" text-anchor="middle" font-weight="normal" >15</text>
<line x1="284.60" y1="212.62" x2="284.60" y2="215.42" stroke="#151515" stroke-width="1.0" />
<text x="284.60" y="223.02" font-size="5.9" fill="#1a1a1a" stroke="#1a1a1a" stroke-width="0.12" text-anchor="middle" font-weight="normal" >16</text>
<line x1="300.30" y1="212.62" x2="300.30" y2="215.42" stroke="#151515" stroke-width="1.0" />
<text x="300.30" y="223.02" font-size="5.9" fill="#1a1a1a" stroke="#1a1a1a" stroke-width="0.12" text-anchor="middle" font-weight="normal" >17</text>
<text x="275.70" y="230.20" font-size="6.6" fill="#1a1a1a" stroke="#1a1a1a" stroke-width="0.22" text-anchor="middle" font-weight="normal" textLength="20.8" lengthAdjust="spacingAndGlyphs">Family#1</text>
<text transform="translate(226.00,178.90) rotate(-90)" x="0" y="0" font-size="7.0" fill="#1a1a1a" stroke="#1a1a1a" stroke-width="0.3" text-anchor="middle" textLength="87.6" lengthAdjust="spacingAndGlyphs" >Collagen-Induced ATP release (µM)</text>
<circle cx="253.10" cy="187.10" r="1.55" fill="#1f5190" stroke="none" stroke-width="0"/>
<circle cx="268.70" cy="183.60" r="1.60" fill="#000" stroke="none" stroke-width="0"/>
<circle cx="284.60" cy="184.60" r="1.60" fill="#d3142f" stroke="none" stroke-width="0"/>
<circle cx="300.70" cy="171.40" r="1.50" fill="#3db54a" stroke="none" stroke-width="0"/>
<text x="368.30" y="138.20" font-size="8.3" fill="#1a1a1a" stroke="#1a1a1a" stroke-width="0.12" text-anchor="start" font-weight="normal" textLength="39.4" lengthAdjust="spacingAndGlyphs">ADP 10µM</text>
<line x1="335.30" y1="142.80" x2="335.30" y2="212.50" stroke="#151515" stroke-width="1.2" />
<line x1="334.70" y1="211.90" x2="351.80" y2="211.90" stroke="#151515" stroke-width="1.2" />
<line x1="332.30" y1="144.00" x2="335.30" y2="144.00" stroke="#151515" stroke-width="1.0" />
<text x="329.70" y="146.10" font-size="5.9" fill="#1a1a1a" stroke="#1a1a1a" stroke-width="0.12" text-anchor="end" font-weight="normal" textLength="3.1" lengthAdjust="spacingAndGlyphs">0</text>
<line x1="332.30" y1="156.06" x2="335.30" y2="156.06" stroke="#151515" stroke-width="1.0" />
<text x="329.70" y="158.16" font-size="5.9" fill="#1a1a1a" stroke="#1a1a1a" stroke-width="0.12" text-anchor="end" font-weight="normal" textLength="6.2" lengthAdjust="spacingAndGlyphs">20</text>
<line x1="332.30" y1="168.12" x2="335.30" y2="168.12" stroke="#151515" stroke-width="1.0" />
<text x="329.70" y="170.22" font-size="5.9" fill="#1a1a1a" stroke="#1a1a1a" stroke-width="0.12" text-anchor="end" font-weight="normal" textLength="6.2" lengthAdjust="spacingAndGlyphs">40</text>
<line x1="332.30" y1="180.18" x2="335.30" y2="180.18" stroke="#151515" stroke-width="1.0" />
<text x="329.70" y="182.28" font-size="5.9" fill="#1a1a1a" stroke="#1a1a1a" stroke-width="0.12" text-anchor="end" font-weight="normal" textLength="6.2" lengthAdjust="spacingAndGlyphs">60</text>
<line x1="332.30" y1="192.24" x2="335.30" y2="192.24" stroke="#151515" stroke-width="1.0" />
<text x="329.70" y="194.34" font-size="5.9" fill="#1a1a1a" stroke="#1a1a1a" stroke-width="0.12" text-anchor="end" font-weight="normal" textLength="6.2" lengthAdjust="spacingAndGlyphs">80</text>
<line x1="332.30" y1="204.30" x2="335.30" y2="204.30" stroke="#151515" stroke-width="1.0" />
<text x="329.70" y="206.40" font-size="5.9" fill="#1a1a1a" stroke="#1a1a1a" stroke-width="0.12" text-anchor="end" font-weight="normal" textLength="9.3" lengthAdjust="spacingAndGlyphs">100</text>
<text x="332.80" y="219.50" font-size="5.6" fill="#1a1a1a"  text-anchor="start" font-weight="normal" >1 min</text>
<text transform="translate(318.35,181.60) rotate(-90)" x="0" y="0" font-size="7.2" fill="#1a1a1a" stroke="#1a1a1a" stroke-width="0.35" text-anchor="middle" textLength="39.4" lengthAdjust="spacingAndGlyphs" >% Aggregation</text>
<polyline points="335.30,144.50 335.87,144.11 336.68,144.20 337.50,144.57 338.27,143.32 339.05,143.18 339.80,142.24 340.51,143.15 341.20,143.54 341.80,144.42 342.49,145.86 343.10,148.04 343.71,151.09 344.40,153.24 344.99,154.98 345.64,157.22 346.30,159.00 346.93,160.07 347.56,162.54 348.20,163.93 348.81,165.54 349.44,167.05 350.20,169.01 350.75,170.56 351.36,171.10 352.01,172.07 352.70,173.10 353.40,174.00 353.99,174.84 354.60,175.89 355.22,175.76 355.88,176.35 356.57,177.41 357.30,177.90 357.89,178.19 358.51,177.88 359.15,178.23 359.82,178.94 360.49,178.80 361.17,179.20 361.84,179.11 362.50,179.12 363.14,179.62 363.77,180.19 364.40,180.46 365.03,180.53 365.67,180.69 366.32,180.98 367.00,181.13 367.70,181.43 368.28,181.84 368.88,181.50 369.50,181.99 370.13,182.42 370.76,182.52 371.41,182.14 372.05,182.92 372.70,182.98 373.35,182.59 374.00,182.81 374.57,182.89 375.13,182.89 375.67,183.75 376.21,183.41 376.75,183.89 377.31,183.40 377.89,183.43 378.50,184.23 379.15,184.28 379.85,184.56 380.60,184.45 381.12,184.41 381.66,184.69 382.23,184.24 382.82,184.69 383.43,184.71 384.05,184.57 384.68,185.03 385.33,184.90 385.98,185.15 386.64,185.14 387.31,185.19 387.97,185.32 388.63,185.61 389.28,186.01 389.93,186.07 390.57,186.10 391.20,186.17 391.82,185.82 392.44,186.46 393.06,185.98 393.68,185.96 394.29,186.35 394.91,186.62 395.53,186.40 396.14,186.73 396.76,186.52 397.37,187.16 397.99,186.83 398.61,186.93 399.22,187.05 399.84,187.40 400.46,187.56 401.08,187.26 401.70,187.25 402.32,187.45 402.96,187.07 403.59,187.41 404.23,187.80 404.87,187.79 405.52,187.26 406.16,187.94 406.80,187.60 407.44,188.12 408.08,187.66 408.71,187.58 409.33,187.88 409.95,188.18 410.55,187.85 411.15,188.23 411.73,188.14 412.30,187.89 412.99,187.88 413.70,188.08 414.41,188.03 415.13,188.05 415.84,188.30 416.54,188.51 417.21,188.31 417.86,187.99 418.48,188.07 419.05,188.22 419.58,188.44 420.05,188.08 420.46,188.05 420.80,188.40" fill="none" stroke="#d8213f" stroke-width="1.3" stroke-linejoin="round" stroke-linecap="round"/>
<polyline points="335.30,144.50 335.78,144.34 336.46,144.28 337.23,144.03 338.00,144.33 338.62,144.47 339.30,143.92 339.97,143.84 340.59,143.73 341.10,143.67 341.82,143.82 342.40,144.45 342.99,146.42 343.66,148.34 344.40,151.30 345.02,152.51 345.71,154.18 346.39,156.11 347.00,157.23 347.66,159.31 348.24,161.99 348.90,163.98 349.49,165.25 350.12,166.93 350.79,168.84 351.50,170.01 352.07,171.63 352.64,171.96 353.25,172.78 353.92,173.56 354.70,174.31 355.25,174.63 355.83,175.14 356.45,175.50 357.09,175.63 357.77,175.66 358.46,176.66 359.17,176.74 359.90,176.57 360.51,177.12 361.16,177.65 361.85,178.13 362.55,177.67 363.25,177.91 363.95,178.57 364.62,178.78 365.26,179.40 365.86,179.57 366.40,179.37 367.09,179.67 367.56,179.94 367.94,180.27 368.39,179.81 369.03,180.10 370.00,180.07 370.44,180.61 370.93,180.23 371.45,181.08 372.01,180.88 372.60,181.05 373.22,180.80 373.87,181.06 374.53,181.39 375.20,181.86 375.89,181.75 376.58,181.71 377.27,182.42 377.96,182.32 378.64,182.37 379.31,182.26 379.97,182.49 380.60,183.12 381.22,182.66 381.85,183.13 382.47,183.35 383.10,183.30 383.72,183.79 384.35,184.06 384.97,184.18 385.59,184.24 386.22,183.97 386.84,184.02 387.47,184.47 388.09,184.53 388.71,184.59 389.34,185.28 389.96,184.90 390.58,185.52 391.20,185.75 391.82,185.23 392.44,185.99 393.06,185.71 393.68,185.68 394.29,185.78 394.91,185.78 395.53,186.27 396.14,186.29 396.76,186.78 397.37,186.88 397.99,186.36 398.61,186.74 399.22,186.83 399.84,186.76 400.46,186.92 401.08,187.02 401.70,187.46 402.32,187.26 402.96,187.16 403.59,187.32 404.23,187.58 404.87,187.75 405.52,187.56 406.16,187.99 406.80,187.67 407.44,188.09 408.08,188.10 408.71,187.81 409.33,188.33 409.95,188.10 410.55,188.27 411.15,188.37 411.73,188.45 412.30,188.35 412.99,188.11 413.70,188.76 414.41,188.88 415.13,188.64 415.84,188.77 416.54,188.58 417.21,189.14 417.86,189.02 418.48,188.70 419.05,189.22 419.58,189.39 420.05,188.92 420.46,189.47 420.80,189.10" fill="none" stroke="#2f6db0" stroke-width="1.3" stroke-linejoin="round" stroke-linecap="round"/>
<polyline points="335.30,144.50 335.78,144.47 336.46,144.17 337.23,144.60 338.00,144.15 338.60,144.34 339.24,143.97 339.88,143.30 340.51,143.49 341.10,143.72 341.79,143.39 342.43,143.52 343.06,144.13 343.70,144.45 344.35,145.74 345.00,147.49 345.65,149.55 346.30,150.73 346.97,152.24 347.64,154.44 348.30,155.84 348.90,157.22 349.56,159.96 350.14,162.17 350.80,163.94 351.37,165.73 351.98,166.88 352.64,168.05 353.40,168.91 353.96,169.54 354.56,171.04 355.19,171.99 355.86,172.53 356.56,173.49 357.30,174.36 357.88,174.63 358.48,175.55 359.10,175.92 359.74,176.23 360.40,176.45 361.08,177.31 361.78,177.56 362.50,178.40 363.10,178.30 363.74,178.90 364.40,179.12 365.08,179.72 365.76,180.27 366.45,180.25 367.12,180.58 367.78,181.33 368.40,181.42 369.00,182.00 369.69,182.05 370.32,182.29 370.91,182.95 371.49,183.54 372.07,183.73 372.67,183.66 373.31,183.81 374.00,183.81 374.52,184.23 375.05,184.51 375.58,185.32 376.11,184.84 376.67,185.85 377.24,185.69 377.84,185.91 378.47,186.02 379.13,186.91 379.84,186.47 380.60,187.06 381.12,187.17 381.66,187.04 382.23,187.21 382.82,188.04 383.43,188.01 384.05,188.10 384.68,188.39 385.33,187.81 385.98,188.50 386.64,188.69 387.31,188.36 387.97,188.72 388.63,189.34 389.28,188.92 389.93,189.48 390.57,189.12 391.20,189.75 391.82,189.59 392.44,190.01 393.06,190.11 393.68,190.78 394.29,190.91 394.91,190.93 395.53,191.34 396.14,191.36 396.76,191.94 397.37,191.69 397.99,192.18 398.61,192.45 399.22,192.48 399.84,192.38 400.46,192.68 401.08,193.27 401.70,193.04 402.32,193.67 402.96,193.56 403.59,194.08 404.23,194.08 404.87,194.06 405.52,193.82 406.16,193.60 406.80,194.12 407.44,194.35 408.08,194.56 408.71,193.95 409.33,193.95 409.95,194.72 410.55,194.54 411.15,194.34 411.73,194.59 412.30,194.08 412.99,194.46 413.70,194.58 414.41,194.52 415.13,194.10 415.84,194.06 416.54,194.47 417.21,194.66 417.86,193.96 418.48,193.80 419.05,193.83 419.58,194.43 420.05,194.04 420.46,194.08 420.80,194.10" fill="none" stroke="#3db54a" stroke-width="1.3" stroke-linejoin="round" stroke-linecap="round"/>
<polyline points="335.30,144.50 335.78,144.86 336.46,144.51 337.24,144.16 338.00,144.36 338.56,143.62 339.13,143.62 339.71,143.70 340.33,143.00 341.00,142.63 341.62,142.73 342.29,142.20 342.99,142.34 343.69,141.34 344.37,141.75 345.00,141.51 345.71,142.31 346.40,142.78 347.04,143.91 347.65,144.67 348.20,145.58 348.96,147.42 349.59,149.48 350.20,150.88 350.81,152.49 351.42,154.33 352.10,155.78 352.68,157.28 353.31,158.83 353.98,160.13 354.70,161.38 355.30,162.00 355.91,162.60 356.56,163.36 357.25,164.34 358.00,164.96 358.57,165.78 359.18,166.06 359.81,166.98 360.46,167.35 361.13,167.88 361.81,168.38 362.50,168.62 363.11,168.86 363.72,169.05 364.35,169.12 364.99,169.95 365.64,169.94 366.31,169.84 366.99,170.72 367.70,170.67 368.28,170.88 368.88,170.90 369.50,170.81 370.13,171.67 370.76,171.16 371.41,171.47 372.05,172.13 372.70,171.58 373.35,172.04 374.00,172.18 374.57,172.15 375.13,172.84 375.67,172.58 376.21,172.42 376.75,172.94 377.31,172.72 377.89,173.43 378.50,173.70 379.15,173.87 379.85,173.32 380.60,173.94 381.12,173.72 381.66,173.92 382.23,173.85 382.82,173.92 383.43,173.85 384.05,174.30 384.68,173.93 385.33,174.69 385.98,174.01 386.64,174.80 387.31,174.23 387.97,174.20 388.63,174.78 389.28,174.66 389.93,174.91 390.57,174.75 391.20,174.90 391.82,174.52 392.44,175.05 393.06,174.98 393.68,175.40 394.29,174.69 394.91,174.80 395.53,175.34 396.14,175.60 396.76,175.25 397.37,175.54 397.99,175.47 398.61,175.39 399.22,175.50 399.84,175.65 400.46,175.24 401.08,175.50 401.70,175.89 402.32,175.54 402.96,175.75 403.59,175.61 404.23,175.73 404.87,175.99 405.52,176.10 406.16,176.30 406.80,175.94 407.44,175.74 408.08,175.87 408.71,175.67 409.33,175.83 409.95,176.13 410.55,176.16 411.15,175.88 411.73,175.84 412.30,175.78 412.99,175.85 413.70,176.10 414.41,175.90 415.13,176.39 415.84,176.12 416.54,175.92 417.21,175.97 417.86,175.64 418.48,176.17 419.05,176.16 419.58,175.83 420.05,176.10 420.46,175.73 420.80,175.90" fill="none" stroke="#151515" stroke-width="1.3" stroke-linejoin="round" stroke-linecap="round"/>
<line x1="348.80" y1="218.00" x2="363.00" y2="218.00" stroke="#2f6db0" stroke-width="1.3" />
<text x="366.90" y="220.00" font-size="5.9" fill="#1a1a1a" stroke="#1a1a1a" stroke-width="0.12" text-anchor="start" font-weight="normal" >14 (74%)</text>
<line x1="348.80" y1="225.40" x2="363.00" y2="225.40" stroke="#151515" stroke-width="1.3" />
<text x="366.90" y="227.40" font-size="5.9" fill="#1a1a1a" stroke="#1a1a1a" stroke-width="0.12" text-anchor="start" font-weight="normal" >15 (52%)</text>
<line x1="348.80" y1="232.80" x2="363.00" y2="232.80" stroke="#d8213f" stroke-width="1.3" />
<text x="366.90" y="234.80" font-size="5.9" fill="#1a1a1a" stroke="#1a1a1a" stroke-width="0.12" text-anchor="start" font-weight="normal" >16 (84%)</text>
<line x1="348.80" y1="240.10" x2="363.00" y2="240.10" stroke="#3db54a" stroke-width="1.3" />
<text x="366.90" y="242.10" font-size="5.9" fill="#1a1a1a" stroke="#1a1a1a" stroke-width="0.12" text-anchor="start" font-weight="normal" >17 (75%)</text>
<rect x="448.90" y="160.10" width="63.90" height="33.50" fill="#a3bb87" stroke="none" stroke-width="0" />
<line x1="448.90" y1="138.40" x2="448.90" y2="206.28" stroke="#151515" stroke-width="1.2" />
<line x1="448.30" y1="205.68" x2="512.80" y2="205.68" stroke="#151515" stroke-width="1.2" />
<line x1="446.10" y1="138.90" x2="448.90" y2="138.90" stroke="#151515" stroke-width="1.0" />
<text x="445.30" y="141.00" font-size="5.9" fill="#1a1a1a" stroke="#1a1a1a" stroke-width="0.12" text-anchor="end" font-weight="normal" >3.0</text>
<line x1="446.10" y1="150.03" x2="448.90" y2="150.03" stroke="#151515" stroke-width="1.0" />
<text x="445.30" y="152.13" font-size="5.9" fill="#1a1a1a" stroke="#1a1a1a" stroke-width="0.12" text-anchor="end" font-weight="normal" >2.5</text>
<line x1="446.10" y1="161.16" x2="448.90" y2="161.16" stroke="#151515" stroke-width="1.0" />
<text x="445.30" y="163.26" font-size="5.9" fill="#1a1a1a" stroke="#1a1a1a" stroke-width="0.12" text-anchor="end" font-weight="normal" >2.0</text>
<line x1="446.10" y1="172.29" x2="448.90" y2="172.29" stroke="#151515" stroke-width="1.0" />
<text x="445.30" y="174.39" font-size="5.9" fill="#1a1a1a" stroke="#1a1a1a" stroke-width="0.12" text-anchor="end" font-weight="normal" >1.5</text>
<line x1="446.10" y1="183.42" x2="448.90" y2="183.42" stroke="#151515" stroke-width="1.0" />
<text x="445.30" y="185.52" font-size="5.9" fill="#1a1a1a" stroke="#1a1a1a" stroke-width="0.12" text-anchor="end" font-weight="normal" >1.0</text>
<line x1="446.10" y1="194.55" x2="448.90" y2="194.55" stroke="#151515" stroke-width="1.0" />
<text x="445.30" y="196.65" font-size="5.9" fill="#1a1a1a" stroke="#1a1a1a" stroke-width="0.12" text-anchor="end" font-weight="normal" >0.5</text>
<line x1="446.10" y1="205.68" x2="448.90" y2="205.68" stroke="#151515" stroke-width="1.0" />
<text x="445.30" y="207.78" font-size="5.9" fill="#1a1a1a" stroke="#1a1a1a" stroke-width="0.12" text-anchor="end" font-weight="normal" >0.0</text>
<line x1="456.90" y1="205.68" x2="456.90" y2="208.48" stroke="#151515" stroke-width="1.0" />
<text x="456.90" y="216.08" font-size="5.9" fill="#1a1a1a" stroke="#1a1a1a" stroke-width="0.12" text-anchor="middle" font-weight="normal" >14</text>
<line x1="472.50" y1="205.68" x2="472.50" y2="208.48" stroke="#151515" stroke-width="1.0" />
<text x="472.50" y="216.08" font-size="5.9" fill="#1a1a1a" stroke="#1a1a1a" stroke-width="0.12" text-anchor="middle" font-weight="normal" >15</text>
<line x1="488.60" y1="205.68" x2="488.60" y2="208.48" stroke="#151515" stroke-width="1.0" />
<text x="488.60" y="216.08" font-size="5.9" fill="#1a1a1a" stroke="#1a1a1a" stroke-width="0.12" text-anchor="middle" font-weight="normal" >16</text>
<line x1="505.40" y1="205.68" x2="505.40" y2="208.48" stroke="#151515" stroke-width="1.0" />
<text x="505.40" y="216.08" font-size="5.9" fill="#1a1a1a" stroke="#1a1a1a" stroke-width="0.12" text-anchor="middle" font-weight="normal" >17</text>
<text x="479.65" y="222.50" font-size="6.6" fill="#1a1a1a" stroke="#1a1a1a" stroke-width="0.22" text-anchor="middle" font-weight="normal" textLength="21.3" lengthAdjust="spacingAndGlyphs">Family#1</text>
<text transform="translate(430.70,172.30) rotate(-90)" x="0" y="0" font-size="7.0" fill="#1a1a1a" stroke="#1a1a1a" stroke-width="0.3" text-anchor="middle" textLength="77.4" lengthAdjust="spacingAndGlyphs" >ADP-Induced ATP release (µM)</text>
<circle cx="456.90" cy="191.60" r="1.55" fill="#1f5190" stroke="none" stroke-width="0"/>
<circle cx="472.50" cy="199.10" r="1.60" fill="#000" stroke="none" stroke-width="0"/>
<circle cx="488.60" cy="196.60" r="1.60" fill="#d3142f" stroke="none" stroke-width="0"/>
<circle cx="505.40" cy="173.30" r="1.50" fill="#3db54a" stroke="none" stroke-width="0"/>
<text x="33.20" y="277.10" font-size="8.5" fill="#1a1a1a" stroke="#1a1a1a" stroke-width="0.12" text-anchor="start" font-weight="normal" textLength="72.2" lengthAdjust="spacingAndGlyphs">Collagen 0.25µg/mL</text>
<text x="144.50" y="277.10" font-size="8.5" fill="#1a1a1a" stroke="#1a1a1a" stroke-width="0.12" text-anchor="start" font-weight="normal" textLength="60.6" lengthAdjust="spacingAndGlyphs">Collagen 1µg/mL</text>
<line x1="29.70" y1="283.40" x2="29.70" y2="346.00" stroke="#151515" stroke-width="1.2" />
<line x1="29.10" y1="345.40" x2="42.10" y2="345.40" stroke="#151515" stroke-width="1.2" />
<line x1="26.70" y1="284.60" x2="29.70" y2="284.60" stroke="#151515" stroke-width="1.0" />
<text x="24.10" y="286.70" font-size="5.9" fill="#1a1a1a" stroke="#1a1a1a" stroke-width="0.12" text-anchor="end" font-weight="normal" textLength="3.1" lengthAdjust="spacingAndGlyphs">0</text>
<line x1="26.70" y1="296.20" x2="29.70" y2="296.20" stroke="#151515" stroke-width="1.0" />
<text x="24.10" y="298.30" font-size="5.9" fill="#1a1a1a" stroke="#1a1a1a" stroke-width="0.12" text-anchor="end" font-weight="normal" textLength="6.2" lengthAdjust="spacingAndGlyphs">20</text>
<line x1="26.70" y1="307.80" x2="29.70" y2="307.80" stroke="#151515" stroke-width="1.0" />
<text x="24.10" y="309.90" font-size="5.9" fill="#1a1a1a" stroke="#1a1a1a" stroke-width="0.12" text-anchor="end" font-weight="normal" textLength="6.2" lengthAdjust="spacingAndGlyphs">40</text>
<line x1="26.70" y1="319.40" x2="29.70" y2="319.40" stroke="#151515" stroke-width="1.0" />
<text x="24.10" y="321.50" font-size="5.9" fill="#1a1a1a" stroke="#1a1a1a" stroke-width="0.12" text-anchor="end" font-weight="normal" textLength="6.2" lengthAdjust="spacingAndGlyphs">60</text>
<line x1="26.70" y1="331.00" x2="29.70" y2="331.00" stroke="#151515" stroke-width="1.0" />
<text x="24.10" y="333.10" font-size="5.9" fill="#1a1a1a" stroke="#1a1a1a" stroke-width="0.12" text-anchor="end" font-weight="normal" textLength="6.2" lengthAdjust="spacingAndGlyphs">80</text>
<line x1="26.70" y1="342.60" x2="29.70" y2="342.60" stroke="#151515" stroke-width="1.0" />
<text x="24.10" y="344.70" font-size="5.9" fill="#1a1a1a" stroke="#1a1a1a" stroke-width="0.12" text-anchor="end" font-weight="normal" textLength="9.3" lengthAdjust="spacingAndGlyphs">100</text>
<text x="29.60" y="351.10" font-size="5.6" fill="#1a1a1a"  text-anchor="start" font-weight="normal" >1 min</text>
<text transform="translate(11.95,312.55) rotate(-90)" x="0" y="0" font-size="7.2" fill="#1a1a1a" stroke="#1a1a1a" stroke-width="0.35" text-anchor="middle" textLength="37.5" lengthAdjust="spacingAndGlyphs" >% Aggregation</text>
<line x1="135.60" y1="283.10" x2="135.60" y2="346.00" stroke="#151515" stroke-width="1.2" />
<line x1="135.00" y1="345.40" x2="150.00" y2="345.40" stroke="#151515" stroke-width="1.2" />
<line x1="132.60" y1="284.30" x2="135.60" y2="284.30" stroke="#151515" stroke-width="1.0" />
<text x="130.00" y="286.40" font-size="5.9" fill="#1a1a1a" stroke="#1a1a1a" stroke-width="0.12" text-anchor="end" font-weight="normal" textLength="3.1" lengthAdjust="spacingAndGlyphs">0</text>
<line x1="132.60" y1="295.72" x2="135.60" y2="295.72" stroke="#151515" stroke-width="1.0" />
<text x="130.00" y="297.82" font-size="5.9" fill="#1a1a1a" stroke="#1a1a1a" stroke-width="0.12" text-anchor="end" font-weight="normal" textLength="6.2" lengthAdjust="spacingAndGlyphs">20</text>
<line x1="132.60" y1="307.14" x2="135.60" y2="307.14" stroke="#151515" stroke-width="1.0" />
<text x="130.00" y="309.24" font-size="5.9" fill="#1a1a1a" stroke="#1a1a1a" stroke-width="0.12" text-anchor="end" font-weight="normal" textLength="6.2" lengthAdjust="spacingAndGlyphs">40</text>
<line x1="132.60" y1="318.56" x2="135.60" y2="318.56" stroke="#151515" stroke-width="1.0" />
<text x="130.00" y="320.66" font-size="5.9" fill="#1a1a1a" stroke="#1a1a1a" stroke-width="0.12" text-anchor="end" font-weight="normal" textLength="6.2" lengthAdjust="spacingAndGlyphs">60</text>
<line x1="132.60" y1="329.98" x2="135.60" y2="329.98" stroke="#151515" stroke-width="1.0" />
<text x="130.00" y="332.08" font-size="5.9" fill="#1a1a1a" stroke="#1a1a1a" stroke-width="0.12" text-anchor="end" font-weight="normal" textLength="6.2" lengthAdjust="spacingAndGlyphs">80</text>
<line x1="132.60" y1="341.40" x2="135.60" y2="341.40" stroke="#151515" stroke-width="1.0" />
<text x="130.00" y="343.50" font-size="5.9" fill="#1a1a1a" stroke="#1a1a1a" stroke-width="0.12" text-anchor="end" font-weight="normal" textLength="9.3" lengthAdjust="spacingAndGlyphs">100</text>
<text x="139.40" y="351.50" font-size="5.6" fill="#1a1a1a"  text-anchor="start" font-weight="normal" >1 min</text>
<text transform="translate(118.35,313.25) rotate(-90)" x="0" y="0" font-size="7.2" fill="#1a1a1a" stroke="#1a1a1a" stroke-width="0.35" text-anchor="middle" textLength="38.9" lengthAdjust="spacingAndGlyphs" >% Aggregation</text>
<polyline points="29.60,284.80 29.97,284.81 30.46,285.29 31.08,285.78 31.85,286.70 32.80,287.06 33.25,287.22 33.74,286.58 34.25,287.33 34.80,287.02 35.37,286.90 35.97,287.02 36.60,286.91 37.24,286.63 37.91,286.81 38.59,287.07 39.29,287.13 40.00,287.36 40.55,286.57 41.11,287.35 41.70,287.26 42.30,287.18 42.91,287.48 43.53,286.57 44.17,287.29 44.81,287.44 45.45,286.60 46.10,287.14 46.76,287.55 47.41,286.86 48.07,287.50 48.72,287.58 49.36,287.10 50.00,286.81 50.60,286.92 51.21,287.64 51.83,287.24 52.46,287.18 53.09,287.37 53.72,287.96 54.35,287.28 54.98,287.08 55.61,288.17 56.23,287.53 56.84,287.66 57.45,288.36 58.05,287.64 58.63,287.47 59.21,288.38 59.76,287.70 60.30,287.69 61.03,288.49 61.72,287.70 62.39,288.42 63.03,287.76 63.65,287.69 64.26,287.55 64.87,287.86 65.47,287.83 66.08,287.60 66.70,287.68 67.34,287.41 68.00,287.97 68.58,288.06 69.17,287.84 69.77,287.90 70.37,287.06 70.98,287.24 71.59,287.17 72.20,287.11 72.82,287.99 73.43,287.91 74.05,287.91 74.66,287.50 75.28,287.00 75.89,287.33 76.50,286.91 77.11,287.83 77.72,287.11 78.34,287.13 78.95,287.84 79.57,287.00 80.19,287.78 80.81,287.10 81.42,287.47 82.03,286.85 82.64,287.70 83.24,287.14 83.83,287.06 84.42,287.39 85.00,287.30 85.66,286.90 86.31,286.73 86.95,287.19 87.58,286.54 88.21,287.43 88.83,286.82 89.44,286.59 90.06,286.73 90.69,286.48 91.31,286.69 91.95,286.93 92.60,286.80 93.22,286.74 93.86,286.73 94.51,286.99 95.18,287.37 95.85,287.05 96.52,287.48 97.19,287.24 97.84,286.92 98.47,287.05 99.08,287.87 99.66,287.54 100.20,287.50 100.70,287.72 101.51,288.20 102.20,287.80 102.79,287.89 103.34,288.02 103.86,287.76 104.40,288.49 105.00,288.58 105.68,288.79 106.43,288.98 107.19,289.25 107.93,289.77 108.61,289.42 109.18,290.49 109.60,290.10" fill="none" stroke="#151515" stroke-width="1.3" stroke-linejoin="round" stroke-linecap="round"/>
<polyline points="29.60,284.80 30.22,285.38 31.10,286.85 32.00,287.54 32.53,288.52 33.00,288.91 33.60,289.41 34.50,290.12 34.99,290.42 35.55,290.55 36.18,290.67 36.85,290.81 37.55,290.43 38.26,290.65 38.97,290.57 39.65,290.94 40.30,290.84 40.90,291.02 41.57,291.10 42.20,291.26 42.78,291.15 43.35,291.29 43.92,291.14 44.50,290.88 45.13,291.22 45.80,290.70 46.38,290.55 46.98,290.75 47.61,290.27 48.25,290.23 48.90,289.66 49.56,289.49 50.23,289.46 50.89,288.84 51.55,288.79 52.20,288.72 52.84,288.06 53.47,287.99 54.09,287.67 54.72,287.26 55.34,286.98 55.98,286.60 56.63,285.92 57.30,285.70 57.98,285.58 58.70,285.53 59.27,284.98 59.84,284.99 60.43,284.59 61.02,284.78 61.63,284.43 62.24,284.33 62.86,284.27 63.50,283.89 64.14,284.08 64.79,284.02 65.45,283.98 66.12,283.63 66.80,283.57 67.37,283.52 67.95,283.88 68.54,283.67 69.15,283.67 69.77,283.77 70.40,283.91 71.02,283.78 71.66,283.85 72.29,284.13 72.92,284.21 73.54,284.05 74.16,284.01 74.76,284.51 75.36,284.48 75.94,284.48 76.50,284.45 77.16,284.81 77.79,284.62 78.39,284.60 78.98,284.64 79.55,284.85 80.11,285.07 80.68,285.05 81.25,285.43 81.84,285.37 82.46,285.36 83.10,285.54 83.78,285.59 84.50,285.66 85.03,285.64 85.59,285.69 86.18,285.72 86.79,285.93 87.43,285.65 88.07,285.98 88.73,285.77 89.40,286.08 90.07,285.72 90.73,285.96 91.39,285.96 92.04,286.12 92.67,285.89 93.28,285.94 93.87,285.89 94.43,286.11 94.96,286.13 95.45,285.85 95.90,285.94 96.90,285.92 97.63,286.24 98.20,285.90 98.70,285.85 99.22,285.62 99.86,285.72 100.70,285.76 101.23,285.68 101.83,285.34 102.50,285.57 103.20,285.61 103.94,285.40 104.69,285.79 105.45,285.58 106.19,285.59 106.91,285.78 107.59,285.78 108.21,285.76 108.76,285.96 109.23,285.80 109.60,285.80" fill="none" stroke="#d8213f" stroke-width="1.3" stroke-linejoin="round" stroke-linecap="round"/>
<polyline points="29.60,284.80 30.10,285.63 30.87,286.76 32.00,288.03 32.46,288.14 32.94,288.40 33.45,288.45 34.00,288.39 34.60,288.49 35.26,288.63 35.99,288.66 36.80,289.11 37.70,289.04 38.19,288.90 38.73,289.18 39.30,289.17 39.90,288.92 40.52,289.29 41.17,289.06 41.84,289.47 42.51,289.06 43.20,289.16 43.89,289.16 44.58,289.48 45.26,289.47 45.94,289.36 46.60,289.15 47.24,289.29 47.85,289.42 48.44,289.09 49.00,289.51 49.73,289.44 50.44,289.42 51.12,289.22 51.78,289.09 52.43,289.16 53.05,288.70 53.66,288.62 54.25,288.44 54.84,288.39 55.41,288.64 55.98,288.26 56.54,288.58 57.10,288.45 57.80,288.79 58.46,288.88 59.09,289.02 59.70,289.32 60.30,289.17 60.90,289.55 61.51,289.89 62.14,290.22 62.80,290.66 63.50,291.09 64.07,291.29 64.68,291.67 65.31,291.87 65.96,292.03 66.61,292.45 67.28,292.92 67.94,293.31 68.60,293.43 69.25,293.77 69.88,294.22 70.49,294.33 71.06,294.94 71.60,294.75 72.32,295.40 73.00,295.60 73.64,295.72 74.25,296.14 74.82,296.30 75.38,296.74 75.93,296.88 76.46,296.89 77.00,297.19 77.61,297.38 78.10,297.19 78.55,297.68 79.03,297.80 79.59,297.95 80.33,297.86 81.30,297.65 81.76,297.52 82.27,297.70 82.82,297.41 83.42,297.61 84.04,297.44 84.69,297.47 85.37,297.14 86.06,297.01 86.76,297.20 87.46,296.97 88.17,296.72 88.86,296.70 89.55,296.53 90.22,296.52 90.86,296.36 91.48,296.15 92.06,296.41 92.60,296.29 93.35,296.13 94.04,295.80 94.69,295.67 95.30,295.85 95.89,295.82 96.46,295.66 97.01,295.38 97.57,295.56 98.14,295.40 98.73,295.26 99.35,295.31 100.00,295.17 100.61,295.22 101.26,295.22 101.95,295.28 102.67,294.79 103.40,294.97 104.14,295.11 104.86,294.92 105.57,294.84 106.25,294.93 106.89,294.48 107.47,294.83 107.99,294.71 108.44,294.67 108.80,294.60" fill="none" stroke="#3db54a" stroke-width="1.3" stroke-linejoin="round" stroke-linecap="round"/>
<polyline points="135.50,287.10 135.88,286.99 136.38,287.35 136.98,287.00 137.66,287.47 138.40,287.33 139.19,288.02 140.00,287.97 140.54,287.70 141.13,287.98 141.75,287.67 142.39,287.81 143.05,287.49 143.72,288.13 144.39,288.04 145.07,288.04 145.73,287.43 146.38,288.09 147.00,287.36 147.67,287.86 148.35,287.78 149.02,287.40 149.69,287.72 150.35,288.13 151.00,287.88 151.63,287.58 152.24,287.99 152.84,287.53 153.40,287.96 154.14,287.38 154.81,286.91 155.43,287.52 156.04,286.50 156.65,286.46 157.30,286.76 158.00,286.05 158.60,286.37 159.24,286.59 159.91,286.30 160.60,286.04 161.29,286.39 161.96,286.46 162.62,286.27 163.23,286.39 163.80,286.24 164.58,286.59 165.29,287.49 165.95,287.92 166.57,287.54 167.15,288.23 167.70,288.75 168.44,289.97 169.08,290.17 169.68,290.95 170.30,292.44 170.95,293.03 171.60,295.02 172.25,295.92 172.90,297.76 173.55,299.28 174.21,300.47 174.86,302.68 175.50,303.82 176.08,304.81 176.61,305.60 177.22,307.06 178.00,307.85 178.49,308.13 179.03,309.13 179.61,309.09 180.23,309.84 180.87,310.03 181.52,310.77 182.17,311.72 182.80,311.80 183.43,311.88 184.07,312.31 184.72,313.00 185.37,312.98 186.03,313.82 186.68,313.36 187.34,314.36 188.00,314.41 188.61,314.85 189.17,314.68 189.70,314.66 190.24,314.98 190.84,315.61 191.52,315.30 192.33,315.61 193.30,316.45 193.77,316.65 194.29,316.75 194.84,316.85 195.44,316.73 196.06,317.15 196.70,317.12 197.37,317.13 198.05,317.15 198.74,316.92 199.43,317.11 200.12,317.38 200.80,317.69 201.48,317.50 202.14,318.37 202.77,318.11 203.38,318.34 203.96,318.55 204.50,318.01 205.00,318.65 205.88,318.75 206.72,318.12 207.51,317.94 208.25,318.46 208.93,318.43 209.56,318.23 210.12,317.76 210.61,317.83 211.04,317.31 211.40,317.60" fill="none" stroke="#151515" stroke-width="1.3" stroke-linejoin="round" stroke-linecap="round"/>
<polyline points="135.50,283.80 135.86,283.65 136.31,283.88 136.85,284.24 137.49,283.82 138.22,284.59 139.06,283.96 140.00,284.78 140.50,284.21 141.06,284.70 141.67,284.73 142.32,284.86 143.00,284.49 143.71,284.69 144.43,284.38 145.15,284.83 145.86,284.26 146.56,284.88 147.24,284.65 147.88,284.21 148.48,284.90 149.02,284.38 149.50,284.15 150.48,284.18 151.24,283.79 151.84,283.76 152.35,283.87 152.85,283.90 153.40,283.51 154.12,283.63 154.83,283.60 155.51,283.58 156.14,283.46 156.70,283.60 157.46,284.15 158.06,285.34 158.60,286.16 159.25,288.65 159.90,290.86 160.46,293.01 161.09,295.13 161.80,297.50 162.38,299.01 163.01,301.10 163.68,303.46 164.40,304.97 165.01,306.77 165.64,308.40 166.30,309.28 166.99,310.97 167.70,311.79 168.31,312.85 168.94,313.21 169.59,314.01 170.26,314.52 170.93,314.65 171.60,315.41 172.17,315.87 172.73,316.13 173.29,316.61 173.87,317.11 174.47,317.31 175.11,317.63 175.80,317.41 176.35,318.12 176.89,318.32 177.43,318.84 177.99,318.35 178.59,318.75 179.25,319.66 179.97,319.45 180.78,319.99 181.70,320.17 182.18,320.15 182.68,320.32 183.21,320.56 183.77,321.05 184.34,320.83 184.94,321.19 185.55,320.95 186.18,321.42 186.81,321.48 187.46,321.74 188.12,322.00 188.77,321.50 189.43,322.35 190.09,322.20 190.75,322.05 191.40,322.34 192.05,322.16 192.68,322.38 193.30,322.97 193.92,322.97 194.55,323.18 195.20,322.71 195.85,322.75 196.51,323.04 197.17,323.21 197.83,323.46 198.49,323.19 199.15,323.61 199.80,323.55 200.44,323.37 201.07,323.82 201.69,323.30 202.30,323.77 202.88,323.49 203.45,323.42 203.99,323.81 204.51,323.88 205.00,323.99 205.88,323.86 206.72,324.35 207.51,324.27 208.25,323.78 208.93,323.68 209.56,324.45 210.12,324.02 210.61,323.77 211.04,323.83 211.40,324.10" fill="none" stroke="#3db54a" stroke-width="1.3" stroke-linejoin="round" stroke-linecap="round"/>
<polyline points="135.50,285.10 135.88,285.33 136.38,284.92 136.98,285.18 137.66,285.54 138.40,285.33 139.19,285.68 140.00,286.00 140.53,285.89 141.09,285.76 141.67,285.77 142.28,285.49 142.90,285.79 143.54,285.81 144.20,285.76 144.88,285.69 145.57,285.95 146.28,285.49 147.00,285.99 147.55,286.27 148.14,285.47 148.75,285.72 149.39,286.43 150.04,285.68 150.70,286.40 151.36,286.25 152.02,285.86 152.67,286.44 153.30,285.95 153.91,286.78 154.49,286.37 155.04,287.01 155.54,287.07 156.00,286.47 156.96,286.90 157.73,286.85 158.35,287.58 158.89,287.22 159.38,287.54 159.90,288.05 160.64,289.69 161.28,290.33 161.88,291.79 162.50,293.45 163.15,295.28 163.80,297.07 164.45,299.60 165.10,301.16 165.75,303.56 166.40,306.36 167.05,308.17 167.70,310.11 168.32,312.22 168.92,312.93 169.56,314.49 170.30,315.49 170.86,315.83 171.46,316.51 172.09,317.01 172.76,318.41 173.47,318.73 174.20,319.36 174.78,319.77 175.40,320.40 176.04,321.58 176.70,321.50 177.36,322.46 178.02,323.09 178.67,323.53 179.30,324.00 179.95,324.41 180.54,324.67 181.10,325.65 181.68,326.12 182.33,326.21 183.09,326.33 184.00,327.37 184.48,326.95 184.99,327.16 185.53,327.81 186.09,328.25 186.67,328.27 187.27,328.10 187.90,329.14 188.53,328.65 189.19,329.07 189.85,329.90 190.53,329.95 191.21,330.14 191.90,329.74 192.60,330.64 193.30,330.41 193.87,330.19 194.46,331.01 195.07,331.25 195.70,330.57 196.34,331.04 197.00,331.53 197.66,331.11 198.33,331.17 199.00,331.68 199.66,331.45 200.32,332.03 200.98,331.97 201.62,332.04 202.24,331.97 202.84,331.57 203.42,332.08 203.98,332.05 204.51,332.02 205.00,332.16 205.88,332.04 206.72,332.05 207.51,332.79 208.25,332.40 208.93,332.25 209.56,333.10 210.12,332.75 210.61,332.96 211.04,332.71 211.40,332.90" fill="none" stroke="#d8213f" stroke-width="1.3" stroke-linejoin="round" stroke-linecap="round"/>
<text x="96.60" y="362.80" font-size="5.9" fill="#1a1a1a" stroke="#1a1a1a" stroke-width="0.12" text-anchor="end" font-weight="normal" >(6%)</text>
<line x1="101.90" y1="360.80" x2="108.80" y2="360.80" stroke="#151515" stroke-width="1.2" />
<text x="116.80" y="362.80" font-size="5.9" fill="#1a1a1a" stroke="#1a1a1a" stroke-width="0.12" text-anchor="middle" font-weight="normal" >106</text>
<line x1="124.20" y1="360.80" x2="131.20" y2="360.80" stroke="#151515" stroke-width="1.2" />
<text x="134.70" y="362.80" font-size="5.9" fill="#1a1a1a" stroke="#1a1a1a" stroke-width="0.12" text-anchor="start" font-weight="normal" >(61%)</text>
<text x="96.60" y="370.60" font-size="5.9" fill="#1a1a1a" stroke="#1a1a1a" stroke-width="0.12" text-anchor="end" font-weight="normal" >(0%)</text>
<line x1="101.90" y1="368.60" x2="108.80" y2="368.60" stroke="#d8213f" stroke-width="1.2" />
<text x="116.80" y="370.60" font-size="5.9" fill="#1a1a1a" stroke="#1a1a1a" stroke-width="0.12" text-anchor="middle" font-weight="normal" >107</text>
<line x1="124.20" y1="368.60" x2="131.20" y2="368.60" stroke="#d8213f" stroke-width="1.2" />
<text x="134.70" y="370.60" font-size="5.9" fill="#1a1a1a" stroke="#1a1a1a" stroke-width="0.12" text-anchor="start" font-weight="normal" >(78%)</text>
<text x="96.60" y="378.40" font-size="5.9" fill="#1a1a1a" stroke="#1a1a1a" stroke-width="0.12" text-anchor="end" font-weight="normal" >(5%)</text>
<line x1="101.90" y1="376.40" x2="108.80" y2="376.40" stroke="#3db54a" stroke-width="1.2" />
<text x="116.80" y="378.40" font-size="5.9" fill="#1a1a1a" stroke="#1a1a1a" stroke-width="0.12" text-anchor="middle" font-weight="normal" >108</text>
<line x1="124.20" y1="376.40" x2="131.20" y2="376.40" stroke="#3db54a" stroke-width="1.2" />
<text x="134.70" y="378.40" font-size="5.9" fill="#1a1a1a" stroke="#1a1a1a" stroke-width="0.12" text-anchor="start" font-weight="normal" >(87%)</text>
<rect x="236.00" y="282.10" width="64.30" height="34.50" fill="#a3bb87" stroke="none" stroke-width="0" />
<line x1="236.00" y1="275.60" x2="236.00" y2="344.20" stroke="#151515" stroke-width="1.2" />
<line x1="235.40" y1="343.60" x2="300.30" y2="343.60" stroke="#151515" stroke-width="1.2" />
<line x1="233.20" y1="276.10" x2="236.00" y2="276.10" stroke="#151515" stroke-width="1.0" />
<text x="232.40" y="278.20" font-size="5.9" fill="#1a1a1a" stroke="#1a1a1a" stroke-width="0.12" text-anchor="end" font-weight="normal" >3.0</text>
<line x1="233.20" y1="287.35" x2="236.00" y2="287.35" stroke="#151515" stroke-width="1.0" />
<text x="232.40" y="289.45" font-size="5.9" fill="#1a1a1a" stroke="#1a1a1a" stroke-width="0.12" text-anchor="end" font-weight="normal" >2.5</text>
<line x1="233.20" y1="298.60" x2="236.00" y2="298.60" stroke="#151515" stroke-width="1.0" />
<text x="232.40" y="300.70" font-size="5.9" fill="#1a1a1a" stroke="#1a1a1a" stroke-width="0.12" text-anchor="end" font-weight="normal" >2.0</text>
<line x1="233.20" y1="309.85" x2="236.00" y2="309.85" stroke="#151515" stroke-width="1.0" />
<text x="232.40" y="311.95" font-size="5.9" fill="#1a1a1a" stroke="#1a1a1a" stroke-width="0.12" text-anchor="end" font-weight="normal" >1.5</text>
<line x1="233.20" y1="321.10" x2="236.00" y2="321.10" stroke="#151515" stroke-width="1.0" />
<text x="232.40" y="323.20" font-size="5.9" fill="#1a1a1a" stroke="#1a1a1a" stroke-width="0.12" text-anchor="end" font-weight="normal" >1.0</text>
<line x1="233.20" y1="332.35" x2="236.00" y2="332.35" stroke="#151515" stroke-width="1.0" />
<text x="232.40" y="334.45" font-size="5.9" fill="#1a1a1a" stroke="#1a1a1a" stroke-width="0.12" text-anchor="end" font-weight="normal" >0.5</text>
<line x1="233.20" y1="343.60" x2="236.00" y2="343.60" stroke="#151515" stroke-width="1.0" />
<text x="232.40" y="345.70" font-size="5.9" fill="#1a1a1a" stroke="#1a1a1a" stroke-width="0.12" text-anchor="end" font-weight="normal" >0.0</text>
<line x1="247.40" y1="343.60" x2="247.40" y2="346.40" stroke="#151515" stroke-width="1.0" />
<text transform="translate(248.40,351.60) rotate(-45)" font-size="6.2" fill="#1a1a1a" stroke="#1a1a1a" stroke-width="0.12" text-anchor="end">106</text>
<line x1="268.60" y1="343.60" x2="268.60" y2="346.40" stroke="#151515" stroke-width="1.0" />
<text transform="translate(269.60,351.60) rotate(-45)" font-size="6.2" fill="#1a1a1a" stroke="#1a1a1a" stroke-width="0.12" text-anchor="end">107</text>
<line x1="289.90" y1="343.60" x2="289.90" y2="346.40" stroke="#151515" stroke-width="1.0" />
<text transform="translate(290.90,351.60) rotate(-45)" font-size="6.2" fill="#1a1a1a" stroke="#1a1a1a" stroke-width="0.12" text-anchor="end">108</text>
<text x="268.70" y="364.70" font-size="6.6" fill="#1a1a1a" stroke="#1a1a1a" stroke-width="0.22" text-anchor="middle" font-weight="normal" textLength="21.8" lengthAdjust="spacingAndGlyphs">Family#2</text>
<text transform="translate(219.20,314.80) rotate(-90)" x="0" y="0" font-size="7.0" fill="#1a1a1a" stroke="#1a1a1a" stroke-width="0.3" text-anchor="middle" textLength="87.4" lengthAdjust="spacingAndGlyphs" >Collagen-Induced ATP release (µM)</text>
<circle cx="247.20" cy="311.40" r="1.60" fill="#000" stroke="none" stroke-width="0"/>
<circle cx="268.60" cy="316.70" r="1.50" fill="#3db54a" stroke="none" stroke-width="0"/>
<circle cx="289.90" cy="319.30" r="1.60" fill="#d3142f" stroke="none" stroke-width="0"/>
<text x="361.30" y="274.10" font-size="8.3" fill="#1a1a1a" stroke="#1a1a1a" stroke-width="0.12" text-anchor="start" font-weight="normal" textLength="39.3" lengthAdjust="spacingAndGlyphs">ADP 10µM</text>
<line x1="326.40" y1="282.40" x2="326.40" y2="352.60" stroke="#151515" stroke-width="1.2" />
<line x1="325.80" y1="352.00" x2="340.70" y2="352.00" stroke="#151515" stroke-width="1.2" />
<line x1="323.40" y1="283.60" x2="326.40" y2="283.60" stroke="#151515" stroke-width="1.0" />
<text x="320.80" y="285.70" font-size="5.9" fill="#1a1a1a" stroke="#1a1a1a" stroke-width="0.12" text-anchor="end" font-weight="normal" textLength="3.1" lengthAdjust="spacingAndGlyphs">0</text>
<line x1="323.40" y1="295.80" x2="326.40" y2="295.80" stroke="#151515" stroke-width="1.0" />
<text x="320.80" y="297.90" font-size="5.9" fill="#1a1a1a" stroke="#1a1a1a" stroke-width="0.12" text-anchor="end" font-weight="normal" textLength="6.2" lengthAdjust="spacingAndGlyphs">20</text>
<line x1="323.40" y1="308.00" x2="326.40" y2="308.00" stroke="#151515" stroke-width="1.0" />
<text x="320.80" y="310.10" font-size="5.9" fill="#1a1a1a" stroke="#1a1a1a" stroke-width="0.12" text-anchor="end" font-weight="normal" textLength="6.2" lengthAdjust="spacingAndGlyphs">40</text>
<line x1="323.40" y1="320.20" x2="326.40" y2="320.20" stroke="#151515" stroke-width="1.0" />
<text x="320.80" y="322.30" font-size="5.9" fill="#1a1a1a" stroke="#1a1a1a" stroke-width="0.12" text-anchor="end" font-weight="normal" textLength="6.2" lengthAdjust="spacingAndGlyphs">60</text>
<line x1="323.40" y1="332.40" x2="326.40" y2="332.40" stroke="#151515" stroke-width="1.0" />
<text x="320.80" y="334.50" font-size="5.9" fill="#1a1a1a" stroke="#1a1a1a" stroke-width="0.12" text-anchor="end" font-weight="normal" textLength="6.2" lengthAdjust="spacingAndGlyphs">80</text>
<line x1="323.40" y1="344.60" x2="326.40" y2="344.60" stroke="#151515" stroke-width="1.0" />
<text x="320.80" y="346.70" font-size="5.9" fill="#1a1a1a" stroke="#1a1a1a" stroke-width="0.12" text-anchor="end" font-weight="normal" textLength="9.3" lengthAdjust="spacingAndGlyphs">100</text>
<text x="329.90" y="357.30" font-size="5.6" fill="#1a1a1a"  text-anchor="start" font-weight="normal" >1 min</text>
<text transform="translate(310.35,320.85) rotate(-90)" x="0" y="0" font-size="7.2" fill="#1a1a1a" stroke="#1a1a1a" stroke-width="0.35" text-anchor="middle" textLength="38.9" lengthAdjust="spacingAndGlyphs" >% Aggregation</text>
<polyline points="326.70,282.50 327.18,281.84 327.86,281.25 328.50,280.97 329.24,280.31 330.00,280.61 330.62,280.42 331.29,280.99 332.00,281.34 332.75,282.80 333.53,284.39 334.30,286.22 335.07,288.27 335.83,290.13 336.50,292.02 337.16,294.07 337.90,296.31 338.49,297.67 339.18,299.45 339.93,300.46 340.70,301.76 341.31,302.61 341.92,302.93 342.56,303.12 343.25,303.77 344.00,303.60 344.59,303.82 345.23,303.95 345.89,304.33 346.57,304.68 347.26,304.50 347.94,304.57 348.60,304.85 349.23,304.47 349.83,304.40 350.43,304.64 351.03,304.24 351.65,304.29 352.30,303.89 353.00,303.85 353.57,303.72 354.17,303.20 354.78,302.75 355.41,302.54 356.05,302.18 356.71,301.46 357.37,301.16 358.03,300.86 358.70,300.60 359.30,300.23 359.92,300.17 360.54,299.74 361.16,299.85 361.79,299.36 362.43,299.09 363.07,298.81 363.71,298.63 364.36,298.47 365.00,298.59 365.58,298.16 366.16,297.98 366.73,298.04 367.30,297.85 367.88,297.55 368.46,297.09 369.05,296.94 369.66,296.84 370.29,296.54 370.93,296.40 371.60,296.16 372.18,296.03 372.78,296.14 373.39,295.92 374.01,295.70 374.64,295.58 375.28,295.52 375.93,295.42 376.59,294.96 377.25,295.24 377.93,294.93 378.61,294.75 379.30,294.94 380.00,294.73 380.56,294.44 381.10,294.19 381.63,294.33 382.16,294.26 382.68,294.16 383.21,293.95 383.74,294.13 384.29,293.90 384.86,294.09 385.46,293.91 386.08,293.72 386.73,293.91 387.43,293.65 388.17,293.38 388.96,293.39 389.80,293.18 390.28,293.31 390.78,293.49 391.30,293.44 391.84,293.24 392.40,292.92 392.97,292.90 393.56,292.81 394.16,292.83 394.78,292.89 395.41,292.51 396.04,292.67 396.69,292.57 397.34,292.61 397.99,292.62 398.65,292.33 399.31,292.36 399.97,292.12 400.63,292.13 401.29,292.15 401.94,291.78 402.58,291.94 403.22,291.86 403.85,291.62 404.47,291.58 405.08,291.80 405.68,291.49 406.26,291.34 406.82,291.32 407.37,291.37 407.90,291.25 408.64,291.13 409.39,291.03 410.14,290.88 410.89,290.93 411.63,290.88 412.37,290.53 413.09,290.69 413.81,290.45 414.51,290.69 415.20,290.58 415.86,290.09 416.51,290.29 417.13,290.03 417.72,289.83 418.28,290.14 418.81,290.08 419.31,289.96 419.77,289.82 420.19,289.93 420.57,289.67 420.90,289.60" fill="none" stroke="#151515" stroke-width="1.3" stroke-linejoin="round" stroke-linecap="round"/>
<polyline points="326.70,282.50 327.18,282.10 327.86,281.41 328.50,280.98 329.24,280.57 330.00,280.30 330.63,280.48 331.31,281.09 332.00,282.04 332.67,283.53 333.33,285.87 334.00,288.17 334.67,290.65 335.33,293.35 336.00,296.10 336.65,298.31 337.30,300.96 338.00,302.81 338.57,304.73 339.16,306.03 339.79,307.21 340.50,308.45 341.08,309.62 341.66,310.47 342.31,311.46 343.07,312.00 344.00,313.19 344.50,313.32 345.06,313.68 345.66,314.18 346.29,314.45 346.95,314.70 347.63,314.95 348.31,315.35 348.98,315.44 349.65,315.84 350.29,316.40 350.90,316.31 351.54,316.56 352.16,317.18 352.76,317.17 353.36,317.45 353.95,317.67 354.54,317.93 355.14,317.92 355.74,318.33 356.36,318.14 357.00,318.77 357.57,318.70 358.12,319.04 358.66,319.07 359.20,319.48 359.74,319.48 360.31,319.78 360.92,319.83 361.56,320.29 362.27,320.48 363.04,320.41 363.90,320.93 364.38,321.15 364.89,320.94 365.43,321.06 365.98,321.57 366.55,321.74 367.14,321.48 367.74,321.96 368.36,322.20 368.99,322.03 369.63,322.45 370.28,322.37 370.94,322.78 371.59,322.80 372.26,322.94 372.92,322.93 373.58,323.35 374.24,323.53 374.89,323.47 375.54,323.49 376.17,323.66 376.80,323.88 377.42,324.38 378.04,324.39 378.65,324.59 379.27,324.65 379.88,324.47 380.50,324.72 381.11,325.13 381.73,325.20 382.34,325.39 382.96,325.43 383.58,325.49 384.20,325.63 384.83,325.82 385.46,325.68 386.09,325.59 386.73,325.84 387.37,325.79 388.02,326.01 388.67,326.27 389.33,326.20 390.00,326.27 390.57,326.27 391.14,326.47 391.71,326.61 392.29,326.71 392.87,326.95 393.46,326.58 394.04,326.73 394.64,326.69 395.23,327.17 395.83,327.08 396.43,327.14 397.03,327.26 397.63,326.91 398.24,327.40 398.85,327.16 399.46,327.35 400.07,327.28 400.68,327.49 401.30,327.30 401.91,327.33 402.53,327.35 403.15,327.62 403.76,327.52 404.38,327.40 405.00,327.53 405.61,327.66 406.24,327.59 406.89,327.72 407.56,327.87 408.24,327.79 408.93,327.89 409.64,327.66 410.35,327.95 411.06,328.00 411.77,327.81 412.48,327.57 413.19,327.61 413.89,327.95 414.57,328.02 415.25,327.95 415.90,327.85 416.54,327.87 417.15,327.67 417.74,327.91 418.30,328.12 418.83,327.73 419.32,327.93 419.78,328.06 420.20,327.96 420.57,327.82 420.90,327.90" fill="none" stroke="#d8213f" stroke-width="1.3" stroke-linejoin="round" stroke-linecap="round"/>
<polyline points="326.70,282.80 327.18,282.28 327.86,282.15 328.50,281.90 329.24,281.48 330.00,281.13 330.63,281.62 331.31,282.15 332.00,282.91 332.64,284.97 333.28,287.08 334.00,289.79 334.65,292.26 335.36,295.76 336.07,298.80 336.70,300.98 337.36,303.82 337.92,306.43 338.50,308.80 339.13,311.78 339.79,314.02 340.50,316.99 341.09,318.76 341.71,320.12 342.35,323.01 343.00,323.86 343.65,325.80 344.30,327.91 344.98,329.08 345.70,330.31 346.30,333.35 346.92,334.25 347.56,335.12 348.25,336.28 349.00,337.76 349.58,337.87 350.20,338.17 350.84,339.97 351.51,341.48 352.18,340.44 352.85,343.07 353.50,342.42 354.13,344.47 354.74,344.62 355.36,344.16 355.97,344.65 356.61,346.73 357.28,347.51 358.00,347.67 358.58,347.60 359.18,347.91 359.80,348.84 360.43,349.31 361.08,349.70 361.75,348.84 362.44,350.35 363.16,350.93 363.90,350.36 364.44,349.30 364.96,349.87 365.45,351.04 365.94,350.69 366.44,351.27 366.97,351.20 367.54,351.35 368.17,351.06 368.88,351.41 369.68,351.62 370.58,351.83 371.60,351.88 372.04,351.46 372.49,351.64 372.95,351.99 373.42,351.39 373.90,351.38 374.40,351.47 374.90,351.86 375.41,351.59 375.94,351.86 376.48,351.94 377.03,351.93 377.59,351.39 378.16,351.85 378.75,351.92 379.35,351.85 379.96,351.96 380.59,351.92 381.23,351.77 381.88,351.94 382.54,351.71 383.22,351.39 383.92,351.51 384.63,351.95 385.35,351.53 386.09,351.61 386.84,351.89 387.61,351.75 388.39,351.82 389.19,351.58 390.00,351.61 390.49,351.30 391.01,351.38 391.54,351.35 392.09,351.61 392.66,351.60 393.25,351.28 393.85,351.67 394.47,351.29 395.10,351.48 395.74,351.22 396.40,351.53 397.06,351.30 397.74,351.85 398.42,351.43 399.12,351.76 399.81,351.48 400.52,351.39 401.23,351.74 401.94,351.34 402.66,351.50 403.37,351.58 404.09,351.82 404.81,351.61 405.53,351.15 406.24,351.42 406.96,351.76 407.66,351.69 408.37,351.34 409.06,351.16 409.75,351.26 410.44,351.59 411.11,351.18 411.77,351.67 412.43,351.22 413.07,351.51 413.69,351.51 414.31,351.19 414.91,351.38 415.49,351.45 416.06,351.19 416.61,351.37 417.14,351.43 417.65,351.65 418.14,351.18 418.60,351.10 419.05,351.32 419.47,351.38 419.87,351.30 420.24,351.60 420.58,351.09 420.90,351.30" fill="none" stroke="#3db54a" stroke-width="1.3" stroke-linejoin="round" stroke-linecap="round"/>
<line x1="341.20" y1="363.50" x2="354.50" y2="363.50" stroke="#151515" stroke-width="1.3" />
<text x="358.10" y="365.00" font-size="5.9" fill="#1a1a1a" stroke="#1a1a1a" stroke-width="0.12" text-anchor="start" font-weight="normal" >106 (35%)</text>
<line x1="341.20" y1="370.60" x2="354.50" y2="370.60" stroke="#d8213f" stroke-width="1.3" />
<text x="358.10" y="372.10" font-size="5.9" fill="#1a1a1a" stroke="#1a1a1a" stroke-width="0.12" text-anchor="start" font-weight="normal" >107 (106%)</text>
<line x1="341.20" y1="378.00" x2="354.50" y2="378.00" stroke="#3db54a" stroke-width="1.3" />
<text x="358.10" y="379.50" font-size="5.9" fill="#1a1a1a" stroke="#1a1a1a" stroke-width="0.12" text-anchor="start" font-weight="normal" >108 (71%)</text>
<rect x="447.90" y="298.80" width="64.40" height="33.70" fill="#a3bb87" stroke="none" stroke-width="0" />
<line x1="447.90" y1="277.10" x2="447.90" y2="345.28" stroke="#151515" stroke-width="1.2" />
<line x1="447.30" y1="344.68" x2="512.30" y2="344.68" stroke="#151515" stroke-width="1.2" />
<line x1="445.10" y1="277.60" x2="447.90" y2="277.60" stroke="#151515" stroke-width="1.0" />
<text x="444.30" y="279.70" font-size="5.9" fill="#1a1a1a" stroke="#1a1a1a" stroke-width="0.12" text-anchor="end" font-weight="normal" >3.0</text>
<line x1="445.10" y1="288.78" x2="447.90" y2="288.78" stroke="#151515" stroke-width="1.0" />
<text x="444.30" y="290.88" font-size="5.9" fill="#1a1a1a" stroke="#1a1a1a" stroke-width="0.12" text-anchor="end" font-weight="normal" >2.5</text>
<line x1="445.10" y1="299.96" x2="447.90" y2="299.96" stroke="#151515" stroke-width="1.0" />
<text x="444.30" y="302.06" font-size="5.9" fill="#1a1a1a" stroke="#1a1a1a" stroke-width="0.12" text-anchor="end" font-weight="normal" >2.0</text>
<line x1="445.10" y1="311.14" x2="447.90" y2="311.14" stroke="#151515" stroke-width="1.0" />
<text x="444.30" y="313.24" font-size="5.9" fill="#1a1a1a" stroke="#1a1a1a" stroke-width="0.12" text-anchor="end" font-weight="normal" >1.5</text>
<line x1="445.10" y1="322.32" x2="447.90" y2="322.32" stroke="#151515" stroke-width="1.0" />
<text x="444.30" y="324.42" font-size="5.9" fill="#1a1a1a" stroke="#1a1a1a" stroke-width="0.12" text-anchor="end" font-weight="normal" >1.0</text>
<line x1="445.10" y1="333.50" x2="447.90" y2="333.50" stroke="#151515" stroke-width="1.0" />
<text x="444.30" y="335.60" font-size="5.9" fill="#1a1a1a" stroke="#1a1a1a" stroke-width="0.12" text-anchor="end" font-weight="normal" >0.5</text>
<line x1="445.10" y1="344.68" x2="447.90" y2="344.68" stroke="#151515" stroke-width="1.0" />
<text x="444.30" y="346.78" font-size="5.9" fill="#1a1a1a" stroke="#1a1a1a" stroke-width="0.12" text-anchor="end" font-weight="normal" >0.0</text>
<line x1="459.10" y1="344.68" x2="459.10" y2="347.48" stroke="#151515" stroke-width="1.0" />
<text transform="translate(460.10,352.68) rotate(-45)" font-size="6.2" fill="#1a1a1a" stroke="#1a1a1a" stroke-width="0.12" text-anchor="end">106</text>
<line x1="480.30" y1="344.68" x2="480.30" y2="347.48" stroke="#151515" stroke-width="1.0" />
<text transform="translate(481.30,352.68) rotate(-45)" font-size="6.2" fill="#1a1a1a" stroke="#1a1a1a" stroke-width="0.12" text-anchor="end">107</text>
<line x1="501.60" y1="344.68" x2="501.60" y2="347.48" stroke="#151515" stroke-width="1.0" />
<text transform="translate(502.60,352.68) rotate(-45)" font-size="6.2" fill="#1a1a1a" stroke="#1a1a1a" stroke-width="0.12" text-anchor="end">108</text>
<text x="480.30" y="364.60" font-size="6.6" fill="#1a1a1a" stroke="#1a1a1a" stroke-width="0.22" text-anchor="middle" font-weight="normal" textLength="20.6" lengthAdjust="spacingAndGlyphs">Family#2</text>
<text transform="translate(429.90,316.65) rotate(-90)" x="0" y="0" font-size="7.0" fill="#1a1a1a" stroke="#1a1a1a" stroke-width="0.3" text-anchor="middle" textLength="78.1" lengthAdjust="spacingAndGlyphs" >ADP-Induced ATP release (µM)</text>
<circle cx="459.10" cy="338.90" r="1.60" fill="#000" stroke="none" stroke-width="0"/>
<circle cx="480.30" cy="327.50" r="1.50" fill="#3db54a" stroke="none" stroke-width="0"/>
<circle cx="501.60" cy="328.90" r="1.60" fill="#d3142f" stroke="none" stroke-width="0"/>
</g>
<rect x="0" y="0" width="520" height="1" fill="#000"/><rect x="0" y="0" width="1" height="386" fill="#000"/><rect x="518.5" y="0" width="1.5" height="386" fill="#000"/><rect x="0" y="384.5" width="520" height="1.5" fill="#000"/>
</svg>
</body></html>
